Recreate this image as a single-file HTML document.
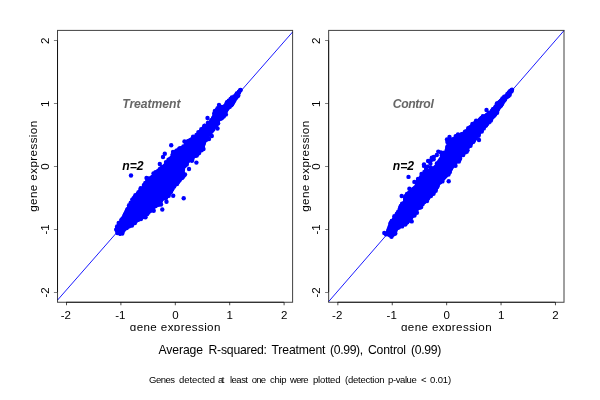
<!DOCTYPE html>
<html lang="en"><head><meta charset="utf-8"><title>Gene expression scatter plots</title>
<style>html,body{margin:0;padding:0;background:#fff;overflow:hidden}svg{display:block}</style>
</head><body>
<svg width="600" height="400" viewBox="0 0 600 400" font-family="'Liberation Sans', Arial, Helvetica, sans-serif" font-size="12.2px" fill="#000">
<defs><clipPath id="cl"><rect x="0" y="0" width="600" height="331"/></clipPath></defs>
<rect width="600" height="400" fill="#fff"/>
<line x1="57.6" y1="300" x2="292.6" y2="32" stroke="#0000ff" stroke-width="0.9"/>
<g fill="#0000ff"><path d="M241.0 88.3 L239.0 90.0 L234.0 95.0 L228.0 100.0 L223.0 105.0 L214.0 110.0 L212.5 115.0 L210.0 120.0 L205.0 125.0 L199.0 130.0 L195.0 135.0 L186.0 140.0 L183.5 145.0 L176.0 150.0 L171.0 155.0 L167.0 160.0 L162.5 165.0 L157.0 170.0 L152.0 175.0 L145.5 180.0 L143.0 185.0 L138.5 190.0 L134.5 195.0 L131.5 200.0 L128.5 205.0 L124.7 210.0 L122.5 215.0 L120.2 220.0 L116.5 225.0 L114.7 230.0 L116.5 234.0 L119.5 236.0 L120.5 236.0 L123.5 234.0 L126.5 230.0 L132.5 225.0 L141.5 220.0 L147.5 215.0 L153.5 210.0 L159.5 205.0 L164.0 200.0 L170.0 195.0 L174.0 190.0 L176.5 185.0 L182.0 180.0 L185.0 175.0 L184.5 170.0 L186.5 165.0 L193.0 160.0 L198.0 155.0 L203.5 150.0 L205.5 145.0 L207.0 140.0 L210.0 135.0 L214.0 130.0 L218.0 125.0 L221.0 120.0 L226.0 115.0 L229.0 110.0 L233.0 105.0 L236.5 100.0 L240.0 95.0 L242.5 90.0 L241.5 88.3Z"/><circle cx="240.2" cy="90.1" r="2.2"/><circle cx="240.6" cy="90.0" r="2.2"/><circle cx="238.9" cy="91.8" r="2.2"/><circle cx="239.1" cy="92.0" r="2.2"/><circle cx="236.8" cy="93.4" r="2.2"/><circle cx="238.3" cy="93.0" r="2.2"/><circle cx="235.8" cy="95.4" r="2.2"/><circle cx="236.5" cy="94.7" r="2.2"/><circle cx="238.3" cy="95.5" r="2.2"/><circle cx="234.2" cy="96.4" r="2.2"/><circle cx="236.1" cy="96.0" r="2.2"/><circle cx="237.5" cy="96.2" r="2.2"/><circle cx="231.9" cy="97.5" r="2.2"/><circle cx="233.3" cy="98.4" r="2.2"/><circle cx="234.4" cy="98.1" r="2.2"/><circle cx="236.2" cy="97.8" r="2.2"/><circle cx="230.6" cy="99.0" r="2.2"/><circle cx="231.5" cy="99.1" r="2.2"/><circle cx="233.7" cy="99.4" r="2.2"/><circle cx="234.7" cy="99.6" r="2.2"/><circle cx="228.8" cy="100.8" r="2.2"/><circle cx="230.5" cy="101.2" r="2.2"/><circle cx="231.1" cy="101.1" r="2.2"/><circle cx="232.7" cy="101.5" r="2.2"/><circle cx="234.2" cy="100.7" r="2.2"/><circle cx="228.0" cy="102.0" r="2.2"/><circle cx="228.7" cy="102.8" r="2.2"/><circle cx="229.7" cy="102.5" r="2.2"/><circle cx="230.9" cy="102.7" r="2.2"/><circle cx="233.2" cy="102.6" r="2.2"/><circle cx="226.4" cy="103.8" r="2.2"/><circle cx="227.6" cy="104.1" r="2.2"/><circle cx="228.9" cy="103.9" r="2.2"/><circle cx="230.7" cy="104.5" r="2.2"/><circle cx="231.8" cy="104.2" r="2.2"/><circle cx="225.2" cy="105.9" r="2.2"/><circle cx="226.9" cy="104.9" r="2.2"/><circle cx="228.0" cy="105.1" r="2.2"/><circle cx="231.3" cy="105.2" r="2.2"/><circle cx="221.9" cy="106.9" r="2.2"/><circle cx="222.5" cy="107.4" r="2.2"/><circle cx="223.9" cy="107.5" r="2.2"/><circle cx="225.9" cy="106.6" r="2.2"/><circle cx="226.4" cy="106.7" r="2.2"/><circle cx="227.8" cy="107.0" r="2.2"/><circle cx="229.6" cy="106.9" r="2.2"/><circle cx="218.8" cy="108.7" r="2.2"/><circle cx="221.7" cy="108.9" r="2.2"/><circle cx="223.1" cy="108.4" r="2.2"/><circle cx="224.0" cy="108.0" r="2.2"/><circle cx="225.7" cy="108.0" r="2.2"/><circle cx="226.7" cy="108.2" r="2.2"/><circle cx="227.7" cy="107.9" r="2.2"/><circle cx="217.1" cy="109.6" r="2.2"/><circle cx="218.5" cy="109.5" r="2.2"/><circle cx="220.5" cy="110.6" r="2.2"/><circle cx="221.5" cy="110.0" r="2.2"/><circle cx="222.4" cy="109.5" r="2.2"/><circle cx="224.1" cy="109.7" r="2.2"/><circle cx="226.4" cy="109.6" r="2.2"/><circle cx="226.3" cy="109.6" r="2.2"/><circle cx="216.3" cy="111.2" r="2.2"/><circle cx="218.5" cy="111.5" r="2.2"/><circle cx="219.8" cy="111.3" r="2.2"/><circle cx="220.5" cy="111.9" r="2.2"/><circle cx="222.8" cy="111.9" r="2.2"/><circle cx="223.9" cy="111.9" r="2.2"/><circle cx="224.6" cy="111.2" r="2.2"/><circle cx="225.8" cy="110.9" r="2.2"/><circle cx="215.7" cy="113.5" r="2.2"/><circle cx="216.0" cy="113.5" r="2.2"/><circle cx="217.6" cy="112.6" r="2.2"/><circle cx="219.1" cy="113.1" r="2.2"/><circle cx="221.4" cy="113.4" r="2.2"/><circle cx="222.3" cy="113.2" r="2.2"/><circle cx="217.2" cy="114.4" r="2.2"/><circle cx="219.3" cy="114.8" r="2.2"/><circle cx="219.8" cy="114.1" r="2.2"/><circle cx="221.2" cy="115.0" r="2.2"/><circle cx="224.5" cy="114.7" r="2.2"/><circle cx="216.4" cy="116.4" r="2.2"/><circle cx="218.2" cy="115.7" r="2.2"/><circle cx="218.9" cy="115.8" r="2.2"/><circle cx="220.2" cy="116.1" r="2.2"/><circle cx="222.4" cy="115.9" r="2.2"/><circle cx="223.7" cy="115.9" r="2.2"/><circle cx="213.2" cy="118.0" r="2.2"/><circle cx="214.1" cy="116.9" r="2.2"/><circle cx="215.4" cy="117.9" r="2.2"/><circle cx="217.0" cy="117.5" r="2.2"/><circle cx="219.1" cy="117.6" r="2.2"/><circle cx="220.6" cy="117.5" r="2.2"/><circle cx="221.2" cy="117.6" r="2.2"/><circle cx="212.8" cy="119.0" r="2.2"/><circle cx="215.0" cy="119.0" r="2.2"/><circle cx="216.5" cy="118.9" r="2.2"/><circle cx="217.6" cy="119.0" r="2.2"/><circle cx="220.8" cy="118.7" r="2.2"/><circle cx="211.3" cy="120.1" r="2.2"/><circle cx="213.2" cy="120.2" r="2.2"/><circle cx="214.7" cy="121.0" r="2.2"/><circle cx="215.4" cy="120.8" r="2.2"/><circle cx="211.3" cy="121.6" r="2.2"/><circle cx="212.4" cy="121.6" r="2.2"/><circle cx="213.7" cy="122.3" r="2.2"/><circle cx="214.7" cy="122.1" r="2.2"/><circle cx="216.8" cy="121.4" r="2.2"/><circle cx="208.0" cy="124.1" r="2.2"/><circle cx="209.2" cy="123.8" r="2.2"/><circle cx="211.2" cy="124.0" r="2.2"/><circle cx="213.1" cy="123.2" r="2.2"/><circle cx="213.7" cy="124.0" r="2.2"/><circle cx="214.9" cy="123.7" r="2.2"/><circle cx="217.7" cy="123.4" r="2.2"/><circle cx="207.5" cy="125.4" r="2.2"/><circle cx="208.0" cy="125.4" r="2.2"/><circle cx="209.6" cy="125.5" r="2.2"/><circle cx="210.6" cy="124.6" r="2.2"/><circle cx="212.2" cy="124.7" r="2.2"/><circle cx="213.0" cy="124.6" r="2.2"/><circle cx="214.5" cy="124.6" r="2.2"/><circle cx="215.6" cy="124.7" r="2.2"/><circle cx="204.3" cy="125.9" r="2.2"/><circle cx="206.5" cy="126.6" r="2.2"/><circle cx="208.4" cy="126.0" r="2.2"/><circle cx="209.7" cy="126.4" r="2.2"/><circle cx="210.7" cy="126.9" r="2.2"/><circle cx="212.0" cy="126.5" r="2.2"/><circle cx="214.0" cy="127.1" r="2.2"/><circle cx="214.7" cy="126.7" r="2.2"/><circle cx="203.7" cy="127.6" r="2.2"/><circle cx="205.3" cy="127.6" r="2.2"/><circle cx="206.7" cy="128.2" r="2.2"/><circle cx="207.5" cy="127.7" r="2.2"/><circle cx="209.0" cy="128.0" r="2.2"/><circle cx="210.3" cy="127.9" r="2.2"/><circle cx="201.3" cy="129.3" r="2.2"/><circle cx="202.9" cy="129.5" r="2.2"/><circle cx="203.7" cy="129.2" r="2.2"/><circle cx="205.1" cy="129.4" r="2.2"/><circle cx="206.5" cy="128.9" r="2.2"/><circle cx="208.1" cy="129.2" r="2.2"/><circle cx="209.9" cy="129.5" r="2.2"/><circle cx="213.3" cy="129.4" r="2.2"/><circle cx="203.1" cy="131.3" r="2.2"/><circle cx="204.7" cy="130.6" r="2.2"/><circle cx="205.7" cy="131.0" r="2.2"/><circle cx="207.5" cy="131.4" r="2.2"/><circle cx="208.9" cy="131.1" r="2.2"/><circle cx="211.1" cy="130.4" r="2.2"/><circle cx="199.1" cy="132.9" r="2.2"/><circle cx="199.5" cy="132.7" r="2.2"/><circle cx="202.1" cy="132.8" r="2.2"/><circle cx="203.1" cy="132.5" r="2.2"/><circle cx="204.7" cy="132.0" r="2.2"/><circle cx="206.2" cy="132.2" r="2.2"/><circle cx="206.8" cy="132.2" r="2.2"/><circle cx="210.1" cy="132.5" r="2.2"/><circle cx="198.7" cy="133.5" r="2.2"/><circle cx="200.8" cy="133.8" r="2.2"/><circle cx="202.0" cy="133.4" r="2.2"/><circle cx="202.8" cy="133.7" r="2.2"/><circle cx="204.9" cy="134.2" r="2.2"/><circle cx="206.3" cy="133.7" r="2.2"/><circle cx="206.9" cy="134.0" r="2.2"/><circle cx="196.5" cy="134.9" r="2.2"/><circle cx="197.0" cy="135.4" r="2.2"/><circle cx="199.5" cy="135.2" r="2.2"/><circle cx="200.5" cy="135.1" r="2.2"/><circle cx="201.9" cy="136.0" r="2.2"/><circle cx="202.9" cy="135.9" r="2.2"/><circle cx="204.9" cy="136.0" r="2.2"/><circle cx="207.8" cy="134.9" r="2.2"/><circle cx="193.1" cy="136.8" r="2.2"/><circle cx="195.1" cy="137.4" r="2.2"/><circle cx="196.4" cy="136.5" r="2.2"/><circle cx="197.9" cy="137.3" r="2.2"/><circle cx="199.2" cy="136.7" r="2.2"/><circle cx="199.9" cy="136.9" r="2.2"/><circle cx="202.1" cy="137.1" r="2.2"/><circle cx="202.7" cy="136.9" r="2.2"/><circle cx="203.9" cy="136.5" r="2.2"/><circle cx="206.2" cy="137.4" r="2.2"/><circle cx="206.4" cy="136.7" r="2.2"/><circle cx="193.9" cy="138.6" r="2.2"/><circle cx="195.1" cy="138.0" r="2.2"/><circle cx="196.5" cy="138.4" r="2.2"/><circle cx="197.9" cy="138.7" r="2.2"/><circle cx="198.7" cy="138.0" r="2.2"/><circle cx="200.9" cy="138.1" r="2.2"/><circle cx="201.8" cy="138.3" r="2.2"/><circle cx="203.0" cy="138.8" r="2.2"/><circle cx="205.5" cy="138.6" r="2.2"/><circle cx="191.4" cy="139.9" r="2.2"/><circle cx="191.8" cy="139.6" r="2.2"/><circle cx="193.1" cy="139.8" r="2.2"/><circle cx="194.6" cy="139.7" r="2.2"/><circle cx="196.2" cy="140.1" r="2.2"/><circle cx="198.4" cy="140.3" r="2.2"/><circle cx="199.3" cy="139.9" r="2.2"/><circle cx="200.8" cy="139.9" r="2.2"/><circle cx="202.0" cy="139.5" r="2.2"/><circle cx="203.7" cy="140.6" r="2.2"/><circle cx="204.7" cy="140.4" r="2.2"/><circle cx="187.9" cy="141.4" r="2.2"/><circle cx="187.9" cy="141.9" r="2.2"/><circle cx="190.3" cy="142.0" r="2.2"/><circle cx="191.5" cy="141.6" r="2.2"/><circle cx="192.4" cy="141.4" r="2.2"/><circle cx="195.0" cy="141.9" r="2.2"/><circle cx="196.3" cy="142.1" r="2.2"/><circle cx="197.1" cy="141.0" r="2.2"/><circle cx="198.4" cy="141.5" r="2.2"/><circle cx="200.5" cy="142.0" r="2.2"/><circle cx="202.0" cy="141.7" r="2.2"/><circle cx="202.5" cy="141.4" r="2.2"/><circle cx="186.0" cy="142.8" r="2.2"/><circle cx="187.2" cy="143.2" r="2.2"/><circle cx="189.4" cy="143.1" r="2.2"/><circle cx="190.7" cy="142.7" r="2.2"/><circle cx="192.5" cy="142.4" r="2.2"/><circle cx="193.6" cy="143.0" r="2.2"/><circle cx="195.9" cy="143.2" r="2.2"/><circle cx="197.2" cy="143.0" r="2.2"/><circle cx="197.9" cy="142.7" r="2.2"/><circle cx="200.3" cy="143.2" r="2.2"/><circle cx="201.0" cy="142.4" r="2.2"/><circle cx="202.3" cy="143.2" r="2.2"/><circle cx="203.5" cy="143.5" r="2.2"/><circle cx="188.4" cy="144.1" r="2.2"/><circle cx="190.4" cy="144.3" r="2.2"/><circle cx="191.6" cy="144.2" r="2.2"/><circle cx="192.3" cy="144.8" r="2.2"/><circle cx="193.8" cy="145.0" r="2.2"/><circle cx="195.4" cy="144.1" r="2.2"/><circle cx="196.5" cy="144.4" r="2.2"/><circle cx="198.4" cy="145.0" r="2.2"/><circle cx="199.1" cy="144.4" r="2.2"/><circle cx="200.6" cy="145.1" r="2.2"/><circle cx="202.2" cy="144.0" r="2.2"/><circle cx="183.4" cy="146.5" r="2.2"/><circle cx="185.6" cy="146.3" r="2.2"/><circle cx="186.7" cy="145.8" r="2.2"/><circle cx="188.2" cy="145.6" r="2.2"/><circle cx="189.2" cy="145.7" r="2.2"/><circle cx="191.1" cy="146.5" r="2.2"/><circle cx="192.4" cy="146.6" r="2.2"/><circle cx="193.9" cy="145.8" r="2.2"/><circle cx="196.2" cy="146.4" r="2.2"/><circle cx="197.2" cy="145.5" r="2.2"/><circle cx="198.7" cy="145.8" r="2.2"/><circle cx="200.7" cy="145.6" r="2.2"/><circle cx="201.6" cy="146.5" r="2.2"/><circle cx="202.5" cy="146.3" r="2.2"/><circle cx="182.0" cy="148.0" r="2.2"/><circle cx="183.9" cy="147.3" r="2.2"/><circle cx="184.8" cy="147.2" r="2.2"/><circle cx="186.4" cy="147.3" r="2.2"/><circle cx="187.4" cy="146.9" r="2.2"/><circle cx="189.4" cy="148.0" r="2.2"/><circle cx="190.8" cy="148.0" r="2.2"/><circle cx="191.6" cy="147.2" r="2.2"/><circle cx="193.6" cy="148.0" r="2.2"/><circle cx="195.7" cy="147.4" r="2.2"/><circle cx="196.3" cy="147.4" r="2.2"/><circle cx="198.1" cy="148.0" r="2.2"/><circle cx="199.2" cy="147.9" r="2.2"/><circle cx="202.4" cy="147.3" r="2.2"/><circle cx="179.8" cy="148.5" r="2.2"/><circle cx="180.9" cy="148.5" r="2.2"/><circle cx="182.0" cy="149.6" r="2.2"/><circle cx="184.1" cy="149.6" r="2.2"/><circle cx="184.8" cy="148.5" r="2.2"/><circle cx="186.0" cy="149.0" r="2.2"/><circle cx="188.1" cy="148.9" r="2.2"/><circle cx="189.0" cy="148.9" r="2.2"/><circle cx="190.8" cy="149.2" r="2.2"/><circle cx="192.4" cy="149.4" r="2.2"/><circle cx="193.7" cy="148.5" r="2.2"/><circle cx="195.3" cy="148.8" r="2.2"/><circle cx="196.4" cy="148.8" r="2.2"/><circle cx="198.0" cy="148.6" r="2.2"/><circle cx="198.9" cy="148.7" r="2.2"/><circle cx="200.3" cy="149.5" r="2.2"/><circle cx="201.6" cy="149.6" r="2.2"/><circle cx="180.8" cy="151.0" r="2.2"/><circle cx="181.3" cy="150.3" r="2.2"/><circle cx="182.9" cy="150.1" r="2.2"/><circle cx="185.4" cy="150.6" r="2.2"/><circle cx="186.8" cy="150.3" r="2.2"/><circle cx="188.2" cy="150.4" r="2.2"/><circle cx="188.9" cy="150.8" r="2.2"/><circle cx="191.2" cy="150.0" r="2.2"/><circle cx="192.3" cy="150.6" r="2.2"/><circle cx="193.3" cy="150.3" r="2.2"/><circle cx="194.7" cy="150.1" r="2.2"/><circle cx="196.3" cy="150.6" r="2.2"/><circle cx="198.3" cy="150.1" r="2.2"/><circle cx="201.5" cy="150.3" r="2.2"/><circle cx="175.7" cy="151.5" r="2.2"/><circle cx="176.8" cy="152.2" r="2.2"/><circle cx="179.1" cy="151.9" r="2.2"/><circle cx="180.0" cy="151.8" r="2.2"/><circle cx="182.3" cy="151.8" r="2.2"/><circle cx="183.3" cy="151.8" r="2.2"/><circle cx="184.6" cy="152.4" r="2.2"/><circle cx="186.8" cy="151.8" r="2.2"/><circle cx="187.3" cy="152.3" r="2.2"/><circle cx="188.8" cy="151.4" r="2.2"/><circle cx="191.1" cy="151.9" r="2.2"/><circle cx="192.4" cy="151.9" r="2.2"/><circle cx="194.0" cy="152.0" r="2.2"/><circle cx="194.6" cy="151.4" r="2.2"/><circle cx="196.5" cy="152.2" r="2.2"/><circle cx="199.1" cy="152.0" r="2.2"/><circle cx="174.4" cy="154.0" r="2.2"/><circle cx="175.3" cy="154.1" r="2.2"/><circle cx="177.9" cy="154.1" r="2.2"/><circle cx="178.8" cy="153.0" r="2.2"/><circle cx="180.7" cy="153.4" r="2.2"/><circle cx="182.2" cy="153.6" r="2.2"/><circle cx="183.5" cy="153.1" r="2.2"/><circle cx="185.0" cy="153.2" r="2.2"/><circle cx="186.0" cy="153.9" r="2.2"/><circle cx="187.9" cy="153.1" r="2.2"/><circle cx="188.7" cy="153.4" r="2.2"/><circle cx="190.5" cy="153.4" r="2.2"/><circle cx="191.5" cy="153.2" r="2.2"/><circle cx="193.6" cy="154.0" r="2.2"/><circle cx="194.3" cy="153.6" r="2.2"/><circle cx="198.0" cy="153.6" r="2.2"/><circle cx="172.8" cy="154.9" r="2.2"/><circle cx="173.6" cy="154.9" r="2.2"/><circle cx="175.9" cy="155.0" r="2.2"/><circle cx="176.9" cy="155.3" r="2.2"/><circle cx="179.0" cy="154.9" r="2.2"/><circle cx="179.8" cy="155.0" r="2.2"/><circle cx="181.1" cy="154.6" r="2.2"/><circle cx="183.0" cy="154.5" r="2.2"/><circle cx="184.4" cy="155.0" r="2.2"/><circle cx="185.4" cy="155.2" r="2.2"/><circle cx="186.9" cy="155.3" r="2.2"/><circle cx="189.2" cy="155.0" r="2.2"/><circle cx="189.8" cy="155.0" r="2.2"/><circle cx="191.6" cy="155.5" r="2.2"/><circle cx="192.8" cy="155.4" r="2.2"/><circle cx="196.8" cy="155.6" r="2.2"/><circle cx="173.5" cy="156.0" r="2.2"/><circle cx="174.2" cy="157.0" r="2.2"/><circle cx="175.7" cy="156.9" r="2.2"/><circle cx="177.0" cy="156.5" r="2.2"/><circle cx="179.4" cy="156.1" r="2.2"/><circle cx="180.0" cy="156.5" r="2.2"/><circle cx="181.5" cy="155.9" r="2.2"/><circle cx="182.8" cy="156.1" r="2.2"/><circle cx="185.1" cy="156.7" r="2.2"/><circle cx="186.5" cy="156.1" r="2.2"/><circle cx="187.8" cy="156.0" r="2.2"/><circle cx="188.9" cy="156.7" r="2.2"/><circle cx="190.1" cy="156.9" r="2.2"/><circle cx="191.8" cy="156.6" r="2.2"/><circle cx="170.3" cy="158.6" r="2.2"/><circle cx="172.3" cy="157.9" r="2.2"/><circle cx="172.8" cy="158.4" r="2.2"/><circle cx="174.4" cy="158.2" r="2.2"/><circle cx="176.7" cy="158.1" r="2.2"/><circle cx="177.8" cy="157.8" r="2.2"/><circle cx="178.4" cy="157.4" r="2.2"/><circle cx="180.0" cy="158.1" r="2.2"/><circle cx="181.7" cy="158.0" r="2.2"/><circle cx="183.7" cy="157.6" r="2.2"/><circle cx="184.3" cy="158.2" r="2.2"/><circle cx="185.5" cy="157.4" r="2.2"/><circle cx="187.3" cy="157.5" r="2.2"/><circle cx="188.7" cy="157.7" r="2.2"/><circle cx="190.4" cy="158.1" r="2.2"/><circle cx="191.1" cy="158.1" r="2.2"/><circle cx="192.5" cy="157.7" r="2.2"/><circle cx="171.0" cy="159.2" r="2.2"/><circle cx="172.3" cy="159.3" r="2.2"/><circle cx="173.9" cy="159.4" r="2.2"/><circle cx="175.8" cy="159.8" r="2.2"/><circle cx="176.4" cy="160.0" r="2.2"/><circle cx="177.7" cy="159.5" r="2.2"/><circle cx="179.6" cy="159.2" r="2.2"/><circle cx="180.7" cy="159.8" r="2.2"/><circle cx="182.1" cy="159.6" r="2.2"/><circle cx="184.7" cy="159.1" r="2.2"/><circle cx="185.3" cy="159.6" r="2.2"/><circle cx="187.1" cy="159.7" r="2.2"/><circle cx="189.0" cy="159.1" r="2.2"/><circle cx="190.7" cy="159.3" r="2.2"/><circle cx="192.2" cy="159.8" r="2.2"/><circle cx="169.0" cy="160.7" r="2.2"/><circle cx="170.4" cy="160.8" r="2.2"/><circle cx="172.7" cy="161.2" r="2.2"/><circle cx="174.2" cy="161.3" r="2.2"/><circle cx="175.0" cy="161.1" r="2.2"/><circle cx="176.6" cy="161.3" r="2.2"/><circle cx="178.2" cy="160.7" r="2.2"/><circle cx="179.8" cy="161.6" r="2.2"/><circle cx="180.7" cy="161.5" r="2.2"/><circle cx="182.0" cy="160.7" r="2.2"/><circle cx="183.7" cy="161.3" r="2.2"/><circle cx="186.0" cy="161.3" r="2.2"/><circle cx="186.7" cy="161.5" r="2.2"/><circle cx="168.4" cy="162.9" r="2.2"/><circle cx="169.6" cy="162.3" r="2.2"/><circle cx="170.5" cy="162.6" r="2.2"/><circle cx="171.8" cy="163.0" r="2.2"/><circle cx="173.3" cy="161.9" r="2.2"/><circle cx="174.7" cy="163.0" r="2.2"/><circle cx="176.4" cy="162.1" r="2.2"/><circle cx="177.4" cy="161.9" r="2.2"/><circle cx="179.6" cy="162.7" r="2.2"/><circle cx="181.0" cy="162.8" r="2.2"/><circle cx="181.7" cy="162.6" r="2.2"/><circle cx="183.4" cy="162.9" r="2.2"/><circle cx="185.4" cy="163.0" r="2.2"/><circle cx="187.2" cy="162.0" r="2.2"/><circle cx="168.0" cy="163.5" r="2.2"/><circle cx="169.2" cy="164.3" r="2.2"/><circle cx="170.8" cy="163.8" r="2.2"/><circle cx="172.6" cy="163.4" r="2.2"/><circle cx="173.8" cy="163.7" r="2.2"/><circle cx="175.9" cy="163.8" r="2.2"/><circle cx="176.9" cy="164.6" r="2.2"/><circle cx="178.5" cy="164.4" r="2.2"/><circle cx="180.2" cy="163.4" r="2.2"/><circle cx="181.4" cy="163.9" r="2.2"/><circle cx="183.3" cy="163.8" r="2.2"/><circle cx="185.0" cy="164.0" r="2.2"/><circle cx="185.1" cy="164.4" r="2.2"/><circle cx="165.8" cy="165.5" r="2.2"/><circle cx="166.4" cy="165.5" r="2.2"/><circle cx="168.1" cy="165.9" r="2.2"/><circle cx="169.4" cy="166.0" r="2.2"/><circle cx="170.9" cy="165.2" r="2.2"/><circle cx="172.9" cy="165.5" r="2.2"/><circle cx="173.7" cy="165.7" r="2.2"/><circle cx="175.1" cy="165.8" r="2.2"/><circle cx="177.3" cy="165.8" r="2.2"/><circle cx="178.7" cy="165.3" r="2.2"/><circle cx="179.9" cy="165.4" r="2.2"/><circle cx="181.9" cy="165.0" r="2.2"/><circle cx="182.6" cy="164.9" r="2.2"/><circle cx="185.0" cy="165.5" r="2.2"/><circle cx="162.6" cy="167.0" r="2.2"/><circle cx="163.4" cy="167.2" r="2.2"/><circle cx="164.7" cy="167.4" r="2.2"/><circle cx="166.7" cy="167.3" r="2.2"/><circle cx="167.6" cy="166.9" r="2.2"/><circle cx="169.7" cy="167.1" r="2.2"/><circle cx="170.4" cy="167.0" r="2.2"/><circle cx="172.7" cy="166.7" r="2.2"/><circle cx="173.3" cy="166.8" r="2.2"/><circle cx="175.4" cy="167.4" r="2.2"/><circle cx="176.2" cy="166.6" r="2.2"/><circle cx="177.7" cy="166.8" r="2.2"/><circle cx="179.5" cy="166.6" r="2.2"/><circle cx="180.7" cy="166.6" r="2.2"/><circle cx="183.1" cy="167.3" r="2.2"/><circle cx="160.1" cy="168.8" r="2.2"/><circle cx="161.8" cy="168.0" r="2.2"/><circle cx="162.8" cy="168.4" r="2.2"/><circle cx="165.1" cy="168.7" r="2.2"/><circle cx="166.2" cy="168.7" r="2.2"/><circle cx="167.6" cy="168.1" r="2.2"/><circle cx="169.2" cy="168.4" r="2.2"/><circle cx="170.7" cy="169.0" r="2.2"/><circle cx="171.8" cy="168.6" r="2.2"/><circle cx="173.6" cy="168.4" r="2.2"/><circle cx="174.4" cy="168.8" r="2.2"/><circle cx="176.6" cy="168.8" r="2.2"/><circle cx="177.8" cy="168.9" r="2.2"/><circle cx="179.2" cy="168.7" r="2.2"/><circle cx="180.3" cy="168.3" r="2.2"/><circle cx="182.2" cy="168.0" r="2.2"/><circle cx="183.1" cy="168.7" r="2.2"/><circle cx="159.2" cy="170.1" r="2.2"/><circle cx="162.2" cy="169.9" r="2.2"/><circle cx="163.3" cy="170.6" r="2.2"/><circle cx="164.3" cy="170.1" r="2.2"/><circle cx="165.9" cy="170.3" r="2.2"/><circle cx="168.3" cy="170.0" r="2.2"/><circle cx="168.8" cy="170.1" r="2.2"/><circle cx="170.8" cy="170.3" r="2.2"/><circle cx="172.2" cy="170.2" r="2.2"/><circle cx="174.1" cy="170.0" r="2.2"/><circle cx="175.1" cy="170.5" r="2.2"/><circle cx="176.3" cy="170.2" r="2.2"/><circle cx="178.0" cy="170.3" r="2.2"/><circle cx="179.2" cy="170.6" r="2.2"/><circle cx="181.0" cy="169.5" r="2.2"/><circle cx="182.9" cy="169.9" r="2.2"/><circle cx="157.8" cy="171.2" r="2.2"/><circle cx="159.4" cy="171.5" r="2.2"/><circle cx="160.3" cy="171.2" r="2.2"/><circle cx="161.4" cy="171.8" r="2.2"/><circle cx="163.7" cy="171.7" r="2.2"/><circle cx="164.8" cy="171.6" r="2.2"/><circle cx="166.0" cy="172.1" r="2.2"/><circle cx="167.7" cy="171.7" r="2.2"/><circle cx="169.7" cy="171.9" r="2.2"/><circle cx="170.8" cy="171.3" r="2.2"/><circle cx="172.4" cy="171.1" r="2.2"/><circle cx="174.2" cy="171.3" r="2.2"/><circle cx="175.7" cy="171.2" r="2.2"/><circle cx="176.6" cy="171.2" r="2.2"/><circle cx="178.2" cy="171.1" r="2.2"/><circle cx="179.2" cy="171.8" r="2.2"/><circle cx="181.2" cy="171.2" r="2.2"/><circle cx="159.1" cy="172.6" r="2.2"/><circle cx="160.6" cy="173.2" r="2.2"/><circle cx="161.0" cy="172.4" r="2.2"/><circle cx="163.5" cy="173.2" r="2.2"/><circle cx="164.1" cy="172.5" r="2.2"/><circle cx="165.4" cy="172.7" r="2.2"/><circle cx="167.6" cy="172.8" r="2.2"/><circle cx="168.3" cy="173.5" r="2.2"/><circle cx="170.5" cy="172.6" r="2.2"/><circle cx="172.0" cy="173.1" r="2.2"/><circle cx="173.3" cy="173.2" r="2.2"/><circle cx="174.8" cy="173.3" r="2.2"/><circle cx="176.2" cy="172.6" r="2.2"/><circle cx="177.4" cy="173.0" r="2.2"/><circle cx="178.9" cy="172.9" r="2.2"/><circle cx="180.5" cy="173.1" r="2.2"/><circle cx="181.5" cy="172.7" r="2.2"/><circle cx="182.9" cy="173.0" r="2.2"/><circle cx="155.9" cy="174.9" r="2.2"/><circle cx="157.5" cy="174.9" r="2.2"/><circle cx="158.5" cy="174.4" r="2.2"/><circle cx="160.7" cy="174.0" r="2.2"/><circle cx="161.7" cy="174.7" r="2.2"/><circle cx="162.4" cy="174.6" r="2.2"/><circle cx="164.6" cy="175.0" r="2.2"/><circle cx="165.7" cy="175.1" r="2.2"/><circle cx="167.3" cy="174.5" r="2.2"/><circle cx="169.2" cy="173.9" r="2.2"/><circle cx="170.4" cy="174.7" r="2.2"/><circle cx="171.4" cy="174.9" r="2.2"/><circle cx="172.9" cy="174.5" r="2.2"/><circle cx="174.5" cy="174.8" r="2.2"/><circle cx="175.5" cy="174.4" r="2.2"/><circle cx="177.2" cy="174.6" r="2.2"/><circle cx="179.1" cy="174.3" r="2.2"/><circle cx="180.6" cy="174.4" r="2.2"/><circle cx="182.4" cy="174.2" r="2.2"/><circle cx="182.8" cy="174.9" r="2.2"/><circle cx="156.1" cy="176.1" r="2.2"/><circle cx="156.5" cy="175.8" r="2.2"/><circle cx="158.0" cy="175.6" r="2.2"/><circle cx="160.6" cy="176.1" r="2.2"/><circle cx="161.8" cy="176.3" r="2.2"/><circle cx="163.6" cy="176.1" r="2.2"/><circle cx="164.7" cy="176.2" r="2.2"/><circle cx="166.3" cy="176.1" r="2.2"/><circle cx="167.8" cy="175.7" r="2.2"/><circle cx="169.2" cy="175.9" r="2.2"/><circle cx="170.9" cy="175.5" r="2.2"/><circle cx="171.7" cy="175.4" r="2.2"/><circle cx="173.9" cy="176.5" r="2.2"/><circle cx="175.2" cy="175.8" r="2.2"/><circle cx="176.9" cy="176.3" r="2.2"/><circle cx="178.1" cy="175.7" r="2.2"/><circle cx="179.3" cy="175.9" r="2.2"/><circle cx="181.8" cy="175.5" r="2.2"/><circle cx="151.3" cy="177.9" r="2.2"/><circle cx="152.3" cy="176.9" r="2.2"/><circle cx="154.1" cy="178.1" r="2.2"/><circle cx="155.0" cy="177.4" r="2.2"/><circle cx="156.1" cy="177.7" r="2.2"/><circle cx="157.7" cy="177.1" r="2.2"/><circle cx="158.9" cy="176.9" r="2.2"/><circle cx="161.2" cy="177.0" r="2.2"/><circle cx="163.0" cy="177.0" r="2.2"/><circle cx="164.4" cy="177.1" r="2.2"/><circle cx="164.8" cy="177.8" r="2.2"/><circle cx="166.6" cy="177.8" r="2.2"/><circle cx="168.0" cy="177.0" r="2.2"/><circle cx="170.1" cy="177.8" r="2.2"/><circle cx="171.7" cy="177.8" r="2.2"/><circle cx="172.3" cy="177.7" r="2.2"/><circle cx="174.5" cy="177.5" r="2.2"/><circle cx="176.2" cy="177.2" r="2.2"/><circle cx="177.7" cy="177.8" r="2.2"/><circle cx="178.1" cy="176.9" r="2.2"/><circle cx="179.8" cy="177.9" r="2.2"/><circle cx="148.8" cy="178.5" r="2.2"/><circle cx="150.6" cy="179.2" r="2.2"/><circle cx="151.4" cy="179.2" r="2.2"/><circle cx="153.2" cy="178.9" r="2.2"/><circle cx="154.4" cy="179.3" r="2.2"/><circle cx="156.5" cy="179.3" r="2.2"/><circle cx="157.5" cy="178.8" r="2.2"/><circle cx="158.4" cy="179.6" r="2.2"/><circle cx="160.6" cy="179.4" r="2.2"/><circle cx="161.6" cy="179.1" r="2.2"/><circle cx="163.8" cy="179.4" r="2.2"/><circle cx="164.8" cy="178.8" r="2.2"/><circle cx="166.1" cy="179.5" r="2.2"/><circle cx="167.5" cy="179.2" r="2.2"/><circle cx="169.2" cy="179.5" r="2.2"/><circle cx="170.9" cy="178.7" r="2.2"/><circle cx="171.4" cy="178.7" r="2.2"/><circle cx="173.3" cy="179.1" r="2.2"/><circle cx="175.3" cy="179.5" r="2.2"/><circle cx="175.8" cy="179.4" r="2.2"/><circle cx="178.2" cy="179.4" r="2.2"/><circle cx="147.6" cy="180.0" r="2.2"/><circle cx="149.8" cy="180.6" r="2.2"/><circle cx="151.8" cy="180.5" r="2.2"/><circle cx="152.7" cy="180.2" r="2.2"/><circle cx="154.8" cy="180.8" r="2.2"/><circle cx="155.9" cy="180.0" r="2.2"/><circle cx="157.8" cy="180.8" r="2.2"/><circle cx="158.6" cy="180.6" r="2.2"/><circle cx="160.9" cy="181.0" r="2.2"/><circle cx="161.9" cy="180.5" r="2.2"/><circle cx="163.5" cy="180.1" r="2.2"/><circle cx="164.5" cy="180.1" r="2.2"/><circle cx="166.5" cy="180.3" r="2.2"/><circle cx="167.8" cy="180.4" r="2.2"/><circle cx="169.3" cy="180.1" r="2.2"/><circle cx="170.2" cy="181.1" r="2.2"/><circle cx="172.0" cy="180.0" r="2.2"/><circle cx="173.8" cy="180.8" r="2.2"/><circle cx="174.7" cy="180.6" r="2.2"/><circle cx="176.4" cy="180.5" r="2.2"/><circle cx="179.2" cy="180.5" r="2.2"/><circle cx="149.0" cy="181.4" r="2.2"/><circle cx="150.3" cy="181.6" r="2.2"/><circle cx="151.6" cy="181.5" r="2.2"/><circle cx="153.6" cy="182.4" r="2.2"/><circle cx="154.9" cy="182.5" r="2.2"/><circle cx="156.9" cy="181.5" r="2.2"/><circle cx="158.0" cy="181.9" r="2.2"/><circle cx="158.8" cy="182.6" r="2.2"/><circle cx="160.4" cy="182.1" r="2.2"/><circle cx="162.3" cy="182.5" r="2.2"/><circle cx="163.8" cy="181.9" r="2.2"/><circle cx="165.0" cy="181.6" r="2.2"/><circle cx="167.0" cy="182.6" r="2.2"/><circle cx="167.5" cy="181.4" r="2.2"/><circle cx="169.0" cy="181.8" r="2.2"/><circle cx="171.2" cy="182.5" r="2.2"/><circle cx="172.6" cy="181.5" r="2.2"/><circle cx="173.9" cy="182.3" r="2.2"/><circle cx="175.2" cy="182.6" r="2.2"/><circle cx="178.0" cy="182.2" r="2.2"/><circle cx="145.3" cy="183.0" r="2.2"/><circle cx="146.7" cy="183.5" r="2.2"/><circle cx="148.1" cy="183.7" r="2.2"/><circle cx="149.4" cy="183.8" r="2.2"/><circle cx="151.1" cy="182.9" r="2.2"/><circle cx="153.4" cy="183.2" r="2.2"/><circle cx="154.9" cy="183.9" r="2.2"/><circle cx="156.3" cy="183.1" r="2.2"/><circle cx="157.2" cy="183.0" r="2.2"/><circle cx="159.3" cy="183.9" r="2.2"/><circle cx="160.4" cy="183.4" r="2.2"/><circle cx="161.5" cy="183.9" r="2.2"/><circle cx="163.1" cy="183.7" r="2.2"/><circle cx="164.2" cy="183.2" r="2.2"/><circle cx="165.5" cy="183.8" r="2.2"/><circle cx="167.6" cy="183.1" r="2.2"/><circle cx="169.4" cy="183.2" r="2.2"/><circle cx="170.3" cy="183.1" r="2.2"/><circle cx="171.6" cy="183.9" r="2.2"/><circle cx="173.1" cy="183.1" r="2.2"/><circle cx="176.9" cy="184.1" r="2.2"/><circle cx="144.6" cy="184.7" r="2.2"/><circle cx="147.2" cy="184.6" r="2.2"/><circle cx="148.5" cy="185.5" r="2.2"/><circle cx="148.9" cy="184.7" r="2.2"/><circle cx="151.3" cy="184.5" r="2.2"/><circle cx="152.6" cy="184.8" r="2.2"/><circle cx="154.4" cy="184.4" r="2.2"/><circle cx="155.7" cy="184.8" r="2.2"/><circle cx="156.3" cy="184.4" r="2.2"/><circle cx="158.7" cy="185.0" r="2.2"/><circle cx="159.4" cy="184.9" r="2.2"/><circle cx="161.7" cy="184.7" r="2.2"/><circle cx="162.8" cy="184.6" r="2.2"/><circle cx="163.8" cy="185.3" r="2.2"/><circle cx="165.9" cy="184.6" r="2.2"/><circle cx="166.7" cy="184.5" r="2.2"/><circle cx="168.8" cy="185.0" r="2.2"/><circle cx="169.9" cy="184.6" r="2.2"/><circle cx="171.8" cy="185.2" r="2.2"/><circle cx="172.4" cy="185.1" r="2.2"/><circle cx="144.1" cy="186.9" r="2.2"/><circle cx="145.6" cy="186.5" r="2.2"/><circle cx="146.4" cy="186.9" r="2.2"/><circle cx="147.6" cy="186.1" r="2.2"/><circle cx="149.7" cy="186.3" r="2.2"/><circle cx="150.4" cy="186.3" r="2.2"/><circle cx="152.3" cy="185.9" r="2.2"/><circle cx="153.7" cy="186.4" r="2.2"/><circle cx="155.1" cy="186.0" r="2.2"/><circle cx="156.8" cy="186.9" r="2.2"/><circle cx="158.4" cy="186.3" r="2.2"/><circle cx="159.7" cy="186.4" r="2.2"/><circle cx="161.2" cy="186.0" r="2.2"/><circle cx="162.8" cy="187.0" r="2.2"/><circle cx="163.7" cy="186.5" r="2.2"/><circle cx="165.2" cy="186.5" r="2.2"/><circle cx="166.1" cy="187.1" r="2.2"/><circle cx="167.7" cy="186.1" r="2.2"/><circle cx="169.0" cy="186.2" r="2.2"/><circle cx="171.3" cy="185.9" r="2.2"/><circle cx="171.6" cy="186.7" r="2.2"/><circle cx="174.2" cy="186.6" r="2.2"/><circle cx="143.7" cy="187.5" r="2.2"/><circle cx="144.9" cy="187.5" r="2.2"/><circle cx="146.5" cy="187.6" r="2.2"/><circle cx="148.2" cy="188.4" r="2.2"/><circle cx="149.1" cy="188.1" r="2.2"/><circle cx="151.3" cy="187.6" r="2.2"/><circle cx="152.9" cy="188.5" r="2.2"/><circle cx="153.8" cy="187.9" r="2.2"/><circle cx="155.9" cy="188.0" r="2.2"/><circle cx="156.8" cy="188.5" r="2.2"/><circle cx="158.7" cy="187.8" r="2.2"/><circle cx="159.5" cy="187.8" r="2.2"/><circle cx="161.3" cy="188.6" r="2.2"/><circle cx="163.2" cy="188.5" r="2.2"/><circle cx="164.6" cy="188.4" r="2.2"/><circle cx="165.2" cy="188.0" r="2.2"/><circle cx="167.8" cy="188.5" r="2.2"/><circle cx="168.4" cy="187.9" r="2.2"/><circle cx="170.3" cy="187.8" r="2.2"/><circle cx="171.6" cy="187.5" r="2.2"/><circle cx="143.2" cy="189.7" r="2.2"/><circle cx="144.9" cy="189.7" r="2.2"/><circle cx="146.3" cy="189.6" r="2.2"/><circle cx="148.5" cy="189.6" r="2.2"/><circle cx="149.1" cy="189.5" r="2.2"/><circle cx="150.8" cy="190.0" r="2.2"/><circle cx="152.0" cy="189.3" r="2.2"/><circle cx="153.9" cy="189.0" r="2.2"/><circle cx="155.3" cy="190.0" r="2.2"/><circle cx="156.6" cy="189.2" r="2.2"/><circle cx="158.0" cy="189.5" r="2.2"/><circle cx="159.0" cy="189.0" r="2.2"/><circle cx="160.5" cy="189.3" r="2.2"/><circle cx="162.2" cy="189.2" r="2.2"/><circle cx="163.5" cy="189.0" r="2.2"/><circle cx="165.2" cy="189.9" r="2.2"/><circle cx="166.8" cy="189.6" r="2.2"/><circle cx="168.2" cy="189.1" r="2.2"/><circle cx="169.7" cy="189.5" r="2.2"/><circle cx="170.6" cy="189.6" r="2.2"/><circle cx="172.2" cy="189.2" r="2.2"/><circle cx="140.2" cy="190.4" r="2.2"/><circle cx="140.7" cy="191.1" r="2.2"/><circle cx="143.1" cy="190.8" r="2.2"/><circle cx="144.2" cy="190.6" r="2.2"/><circle cx="144.8" cy="191.4" r="2.2"/><circle cx="146.7" cy="190.5" r="2.2"/><circle cx="148.1" cy="190.9" r="2.2"/><circle cx="150.0" cy="190.5" r="2.2"/><circle cx="150.8" cy="191.6" r="2.2"/><circle cx="152.9" cy="190.6" r="2.2"/><circle cx="153.8" cy="190.8" r="2.2"/><circle cx="155.7" cy="191.1" r="2.2"/><circle cx="157.3" cy="191.4" r="2.2"/><circle cx="158.4" cy="191.3" r="2.2"/><circle cx="160.1" cy="191.3" r="2.2"/><circle cx="161.2" cy="191.3" r="2.2"/><circle cx="162.9" cy="191.5" r="2.2"/><circle cx="163.6" cy="191.4" r="2.2"/><circle cx="164.9" cy="191.3" r="2.2"/><circle cx="167.1" cy="191.0" r="2.2"/><circle cx="169.0" cy="191.1" r="2.2"/><circle cx="171.2" cy="190.9" r="2.2"/><circle cx="138.5" cy="192.3" r="2.2"/><circle cx="141.7" cy="192.5" r="2.2"/><circle cx="142.7" cy="192.1" r="2.2"/><circle cx="143.9" cy="192.1" r="2.2"/><circle cx="145.7" cy="192.6" r="2.2"/><circle cx="146.6" cy="193.0" r="2.2"/><circle cx="148.3" cy="192.9" r="2.2"/><circle cx="150.3" cy="193.1" r="2.2"/><circle cx="151.0" cy="192.4" r="2.2"/><circle cx="153.3" cy="191.9" r="2.2"/><circle cx="153.7" cy="192.6" r="2.2"/><circle cx="155.7" cy="193.0" r="2.2"/><circle cx="157.5" cy="192.5" r="2.2"/><circle cx="159.2" cy="192.5" r="2.2"/><circle cx="160.0" cy="192.7" r="2.2"/><circle cx="161.3" cy="192.3" r="2.2"/><circle cx="163.0" cy="192.3" r="2.2"/><circle cx="164.9" cy="192.7" r="2.2"/><circle cx="165.8" cy="192.0" r="2.2"/><circle cx="167.1" cy="192.4" r="2.2"/><circle cx="170.3" cy="192.5" r="2.2"/><circle cx="137.7" cy="193.8" r="2.2"/><circle cx="140.5" cy="194.0" r="2.2"/><circle cx="141.1" cy="194.5" r="2.2"/><circle cx="143.2" cy="194.4" r="2.2"/><circle cx="145.0" cy="194.5" r="2.2"/><circle cx="145.8" cy="193.6" r="2.2"/><circle cx="147.0" cy="194.0" r="2.2"/><circle cx="148.7" cy="193.6" r="2.2"/><circle cx="149.8" cy="194.2" r="2.2"/><circle cx="151.7" cy="193.8" r="2.2"/><circle cx="153.6" cy="194.2" r="2.2"/><circle cx="153.9" cy="193.9" r="2.2"/><circle cx="156.3" cy="193.8" r="2.2"/><circle cx="157.6" cy="193.4" r="2.2"/><circle cx="158.6" cy="194.4" r="2.2"/><circle cx="160.4" cy="194.2" r="2.2"/><circle cx="161.3" cy="194.0" r="2.2"/><circle cx="163.2" cy="193.7" r="2.2"/><circle cx="164.8" cy="194.0" r="2.2"/><circle cx="166.6" cy="194.1" r="2.2"/><circle cx="167.9" cy="193.5" r="2.2"/><circle cx="168.9" cy="193.5" r="2.2"/><circle cx="138.9" cy="195.8" r="2.2"/><circle cx="140.4" cy="195.1" r="2.2"/><circle cx="141.8" cy="195.0" r="2.2"/><circle cx="144.1" cy="195.6" r="2.2"/><circle cx="144.9" cy="195.4" r="2.2"/><circle cx="146.4" cy="195.0" r="2.2"/><circle cx="148.5" cy="195.6" r="2.2"/><circle cx="150.1" cy="195.4" r="2.2"/><circle cx="151.2" cy="195.2" r="2.2"/><circle cx="152.0" cy="196.0" r="2.2"/><circle cx="154.5" cy="195.3" r="2.2"/><circle cx="156.0" cy="195.9" r="2.2"/><circle cx="156.8" cy="195.6" r="2.2"/><circle cx="159.1" cy="195.5" r="2.2"/><circle cx="160.6" cy="195.2" r="2.2"/><circle cx="161.4" cy="195.8" r="2.2"/><circle cx="162.7" cy="195.3" r="2.2"/><circle cx="165.0" cy="195.5" r="2.2"/><circle cx="165.8" cy="195.2" r="2.2"/><circle cx="167.6" cy="196.1" r="2.2"/><circle cx="135.0" cy="197.0" r="2.2"/><circle cx="137.9" cy="196.7" r="2.2"/><circle cx="139.2" cy="196.7" r="2.2"/><circle cx="140.7" cy="196.4" r="2.2"/><circle cx="142.7" cy="196.8" r="2.2"/><circle cx="143.5" cy="197.2" r="2.2"/><circle cx="144.9" cy="196.7" r="2.2"/><circle cx="147.2" cy="196.6" r="2.2"/><circle cx="148.2" cy="197.4" r="2.2"/><circle cx="150.1" cy="196.6" r="2.2"/><circle cx="151.0" cy="197.3" r="2.2"/><circle cx="152.5" cy="197.6" r="2.2"/><circle cx="153.7" cy="197.5" r="2.2"/><circle cx="155.5" cy="196.7" r="2.2"/><circle cx="156.9" cy="196.6" r="2.2"/><circle cx="158.7" cy="196.7" r="2.2"/><circle cx="160.4" cy="197.1" r="2.2"/><circle cx="161.2" cy="196.7" r="2.2"/><circle cx="162.9" cy="196.7" r="2.2"/><circle cx="164.3" cy="196.5" r="2.2"/><circle cx="166.0" cy="197.3" r="2.2"/><circle cx="133.6" cy="198.3" r="2.2"/><circle cx="136.0" cy="198.9" r="2.2"/><circle cx="136.8" cy="198.6" r="2.2"/><circle cx="138.6" cy="198.5" r="2.2"/><circle cx="140.0" cy="198.0" r="2.2"/><circle cx="141.5" cy="198.2" r="2.2"/><circle cx="142.7" cy="198.8" r="2.2"/><circle cx="144.4" cy="198.4" r="2.2"/><circle cx="146.6" cy="198.8" r="2.2"/><circle cx="148.1" cy="198.9" r="2.2"/><circle cx="148.7" cy="198.2" r="2.2"/><circle cx="150.0" cy="198.7" r="2.2"/><circle cx="152.3" cy="198.3" r="2.2"/><circle cx="153.4" cy="198.7" r="2.2"/><circle cx="155.3" cy="198.2" r="2.2"/><circle cx="156.9" cy="198.3" r="2.2"/><circle cx="158.1" cy="198.1" r="2.2"/><circle cx="159.0" cy="199.0" r="2.2"/><circle cx="161.2" cy="198.8" r="2.2"/><circle cx="161.9" cy="197.9" r="2.2"/><circle cx="163.6" cy="198.4" r="2.2"/><circle cx="134.7" cy="200.3" r="2.2"/><circle cx="136.5" cy="199.8" r="2.2"/><circle cx="137.1" cy="200.4" r="2.2"/><circle cx="139.5" cy="199.7" r="2.2"/><circle cx="140.0" cy="200.4" r="2.2"/><circle cx="142.1" cy="199.5" r="2.2"/><circle cx="143.1" cy="199.5" r="2.2"/><circle cx="145.2" cy="199.7" r="2.2"/><circle cx="146.8" cy="200.3" r="2.2"/><circle cx="147.3" cy="200.2" r="2.2"/><circle cx="149.1" cy="200.3" r="2.2"/><circle cx="151.0" cy="199.7" r="2.2"/><circle cx="151.6" cy="200.5" r="2.2"/><circle cx="153.4" cy="200.5" r="2.2"/><circle cx="155.2" cy="200.3" r="2.2"/><circle cx="156.8" cy="200.2" r="2.2"/><circle cx="157.7" cy="199.5" r="2.2"/><circle cx="159.5" cy="199.9" r="2.2"/><circle cx="161.1" cy="200.5" r="2.2"/><circle cx="133.3" cy="201.6" r="2.2"/><circle cx="135.3" cy="201.4" r="2.2"/><circle cx="136.6" cy="201.3" r="2.2"/><circle cx="138.0" cy="201.7" r="2.2"/><circle cx="140.1" cy="201.2" r="2.2"/><circle cx="141.1" cy="201.5" r="2.2"/><circle cx="142.8" cy="202.0" r="2.2"/><circle cx="144.2" cy="201.3" r="2.2"/><circle cx="146.3" cy="201.1" r="2.2"/><circle cx="147.4" cy="201.3" r="2.2"/><circle cx="149.2" cy="201.6" r="2.2"/><circle cx="150.7" cy="201.1" r="2.2"/><circle cx="152.0" cy="201.6" r="2.2"/><circle cx="153.3" cy="201.8" r="2.2"/><circle cx="155.2" cy="201.0" r="2.2"/><circle cx="156.0" cy="201.3" r="2.2"/><circle cx="157.4" cy="201.0" r="2.2"/><circle cx="160.7" cy="201.0" r="2.2"/><circle cx="130.8" cy="202.6" r="2.2"/><circle cx="133.4" cy="203.3" r="2.2"/><circle cx="135.1" cy="203.1" r="2.2"/><circle cx="135.5" cy="203.0" r="2.2"/><circle cx="137.4" cy="202.6" r="2.2"/><circle cx="139.0" cy="202.4" r="2.2"/><circle cx="140.9" cy="203.2" r="2.2"/><circle cx="142.0" cy="203.5" r="2.2"/><circle cx="143.5" cy="202.7" r="2.2"/><circle cx="144.5" cy="202.6" r="2.2"/><circle cx="145.7" cy="203.3" r="2.2"/><circle cx="148.1" cy="202.8" r="2.2"/><circle cx="148.8" cy="203.2" r="2.2"/><circle cx="151.0" cy="203.5" r="2.2"/><circle cx="151.7" cy="203.3" r="2.2"/><circle cx="153.9" cy="203.3" r="2.2"/><circle cx="154.8" cy="202.6" r="2.2"/><circle cx="156.9" cy="202.8" r="2.2"/><circle cx="158.5" cy="203.1" r="2.2"/><circle cx="159.6" cy="202.4" r="2.2"/><circle cx="131.6" cy="204.5" r="2.2"/><circle cx="133.3" cy="204.6" r="2.2"/><circle cx="134.5" cy="204.7" r="2.2"/><circle cx="136.1" cy="204.4" r="2.2"/><circle cx="138.5" cy="204.0" r="2.2"/><circle cx="138.8" cy="204.4" r="2.2"/><circle cx="140.4" cy="204.8" r="2.2"/><circle cx="141.6" cy="204.9" r="2.2"/><circle cx="144.1" cy="204.8" r="2.2"/><circle cx="145.0" cy="204.2" r="2.2"/><circle cx="146.7" cy="204.5" r="2.2"/><circle cx="147.9" cy="204.3" r="2.2"/><circle cx="149.3" cy="204.7" r="2.2"/><circle cx="151.2" cy="205.0" r="2.2"/><circle cx="151.9" cy="204.3" r="2.2"/><circle cx="153.7" cy="204.6" r="2.2"/><circle cx="155.0" cy="204.1" r="2.2"/><circle cx="157.4" cy="204.3" r="2.2"/><circle cx="132.4" cy="206.1" r="2.2"/><circle cx="134.6" cy="206.0" r="2.2"/><circle cx="135.8" cy="205.8" r="2.2"/><circle cx="136.9" cy="206.5" r="2.2"/><circle cx="138.0" cy="205.6" r="2.2"/><circle cx="140.3" cy="205.9" r="2.2"/><circle cx="141.0" cy="206.2" r="2.2"/><circle cx="142.9" cy="206.1" r="2.2"/><circle cx="144.4" cy="206.0" r="2.2"/><circle cx="146.1" cy="205.9" r="2.2"/><circle cx="147.0" cy="205.6" r="2.2"/><circle cx="149.4" cy="206.1" r="2.2"/><circle cx="150.0" cy="206.4" r="2.2"/><circle cx="151.6" cy="205.5" r="2.2"/><circle cx="153.5" cy="205.7" r="2.2"/><circle cx="155.0" cy="206.1" r="2.2"/><circle cx="155.7" cy="206.0" r="2.2"/><circle cx="129.1" cy="207.0" r="2.2"/><circle cx="130.9" cy="208.1" r="2.2"/><circle cx="133.1" cy="207.0" r="2.2"/><circle cx="134.7" cy="207.4" r="2.2"/><circle cx="135.4" cy="208.1" r="2.2"/><circle cx="137.3" cy="207.8" r="2.2"/><circle cx="138.2" cy="207.8" r="2.2"/><circle cx="139.6" cy="207.2" r="2.2"/><circle cx="141.4" cy="206.9" r="2.2"/><circle cx="143.1" cy="207.2" r="2.2"/><circle cx="144.2" cy="207.7" r="2.2"/><circle cx="145.8" cy="208.0" r="2.2"/><circle cx="147.5" cy="207.9" r="2.2"/><circle cx="148.9" cy="208.0" r="2.2"/><circle cx="150.7" cy="207.1" r="2.2"/><circle cx="152.0" cy="207.3" r="2.2"/><circle cx="127.5" cy="209.3" r="2.2"/><circle cx="129.9" cy="209.5" r="2.2"/><circle cx="132.1" cy="208.7" r="2.2"/><circle cx="133.0" cy="208.9" r="2.2"/><circle cx="135.2" cy="209.1" r="2.2"/><circle cx="135.9" cy="208.4" r="2.2"/><circle cx="137.4" cy="209.4" r="2.2"/><circle cx="139.0" cy="209.1" r="2.2"/><circle cx="140.6" cy="209.2" r="2.2"/><circle cx="142.2" cy="208.6" r="2.2"/><circle cx="144.3" cy="209.0" r="2.2"/><circle cx="145.5" cy="209.4" r="2.2"/><circle cx="147.4" cy="208.4" r="2.2"/><circle cx="148.1" cy="208.6" r="2.2"/><circle cx="149.8" cy="209.4" r="2.2"/><circle cx="151.8" cy="208.4" r="2.2"/><circle cx="152.3" cy="208.9" r="2.2"/><circle cx="127.4" cy="210.0" r="2.2"/><circle cx="129.7" cy="210.6" r="2.2"/><circle cx="130.2" cy="210.1" r="2.2"/><circle cx="132.0" cy="210.5" r="2.2"/><circle cx="133.7" cy="210.4" r="2.2"/><circle cx="134.9" cy="209.9" r="2.2"/><circle cx="136.6" cy="210.3" r="2.2"/><circle cx="137.4" cy="210.5" r="2.2"/><circle cx="140.0" cy="210.0" r="2.2"/><circle cx="140.4" cy="210.7" r="2.2"/><circle cx="142.0" cy="210.2" r="2.2"/><circle cx="143.8" cy="210.2" r="2.2"/><circle cx="145.3" cy="210.5" r="2.2"/><circle cx="147.2" cy="211.1" r="2.2"/><circle cx="147.5" cy="210.6" r="2.2"/><circle cx="150.7" cy="210.7" r="2.2"/><circle cx="128.9" cy="212.0" r="2.2"/><circle cx="130.3" cy="211.8" r="2.2"/><circle cx="131.7" cy="211.9" r="2.2"/><circle cx="132.5" cy="211.8" r="2.2"/><circle cx="134.3" cy="212.6" r="2.2"/><circle cx="136.0" cy="211.8" r="2.2"/><circle cx="137.2" cy="211.7" r="2.2"/><circle cx="138.7" cy="211.6" r="2.2"/><circle cx="139.8" cy="212.4" r="2.2"/><circle cx="141.8" cy="211.9" r="2.2"/><circle cx="143.4" cy="211.8" r="2.2"/><circle cx="144.4" cy="211.5" r="2.2"/><circle cx="146.0" cy="211.8" r="2.2"/><circle cx="148.5" cy="212.5" r="2.2"/><circle cx="127.1" cy="213.8" r="2.2"/><circle cx="127.5" cy="213.5" r="2.2"/><circle cx="130.0" cy="213.2" r="2.2"/><circle cx="130.7" cy="212.9" r="2.2"/><circle cx="132.1" cy="213.2" r="2.2"/><circle cx="134.2" cy="213.2" r="2.2"/><circle cx="135.4" cy="213.1" r="2.2"/><circle cx="137.1" cy="213.9" r="2.2"/><circle cx="138.6" cy="213.1" r="2.2"/><circle cx="140.2" cy="214.1" r="2.2"/><circle cx="141.6" cy="213.0" r="2.2"/><circle cx="143.3" cy="214.0" r="2.2"/><circle cx="144.2" cy="213.1" r="2.2"/><circle cx="147.1" cy="214.0" r="2.2"/><circle cx="124.7" cy="215.2" r="2.2"/><circle cx="125.1" cy="214.5" r="2.2"/><circle cx="127.4" cy="214.8" r="2.2"/><circle cx="128.6" cy="215.1" r="2.2"/><circle cx="129.8" cy="215.0" r="2.2"/><circle cx="130.9" cy="215.5" r="2.2"/><circle cx="133.0" cy="215.6" r="2.2"/><circle cx="133.8" cy="215.1" r="2.2"/><circle cx="136.0" cy="214.8" r="2.2"/><circle cx="136.6" cy="214.6" r="2.2"/><circle cx="138.1" cy="215.3" r="2.2"/><circle cx="139.5" cy="215.4" r="2.2"/><circle cx="141.3" cy="215.0" r="2.2"/><circle cx="142.9" cy="215.1" r="2.2"/><circle cx="144.6" cy="215.1" r="2.2"/><circle cx="125.2" cy="216.4" r="2.2"/><circle cx="127.1" cy="216.1" r="2.2"/><circle cx="127.4" cy="216.5" r="2.2"/><circle cx="129.6" cy="216.8" r="2.2"/><circle cx="130.7" cy="217.1" r="2.2"/><circle cx="132.0" cy="216.8" r="2.2"/><circle cx="133.3" cy="215.9" r="2.2"/><circle cx="134.8" cy="216.0" r="2.2"/><circle cx="136.6" cy="216.6" r="2.2"/><circle cx="137.7" cy="217.0" r="2.2"/><circle cx="139.3" cy="216.1" r="2.2"/><circle cx="140.5" cy="216.8" r="2.2"/><circle cx="142.8" cy="216.1" r="2.2"/><circle cx="144.0" cy="217.1" r="2.2"/><circle cx="122.7" cy="218.4" r="2.2"/><circle cx="125.4" cy="218.2" r="2.2"/><circle cx="127.3" cy="218.4" r="2.2"/><circle cx="128.3" cy="218.1" r="2.2"/><circle cx="130.2" cy="218.5" r="2.2"/><circle cx="132.3" cy="218.2" r="2.2"/><circle cx="132.9" cy="217.7" r="2.2"/><circle cx="134.4" cy="217.9" r="2.2"/><circle cx="135.8" cy="217.6" r="2.2"/><circle cx="137.9" cy="218.2" r="2.2"/><circle cx="138.8" cy="218.6" r="2.2"/><circle cx="141.1" cy="218.1" r="2.2"/><circle cx="122.3" cy="219.2" r="2.2"/><circle cx="125.4" cy="219.4" r="2.2"/><circle cx="126.9" cy="220.0" r="2.2"/><circle cx="127.9" cy="220.0" r="2.2"/><circle cx="129.6" cy="219.8" r="2.2"/><circle cx="131.7" cy="219.1" r="2.2"/><circle cx="133.2" cy="220.1" r="2.2"/><circle cx="134.0" cy="218.9" r="2.2"/><circle cx="135.3" cy="220.1" r="2.2"/><circle cx="136.6" cy="220.0" r="2.2"/><circle cx="138.2" cy="219.8" r="2.2"/><circle cx="140.9" cy="219.0" r="2.2"/><circle cx="124.6" cy="220.4" r="2.2"/><circle cx="125.8" cy="220.7" r="2.2"/><circle cx="127.3" cy="220.5" r="2.2"/><circle cx="128.3" cy="221.6" r="2.2"/><circle cx="130.1" cy="221.5" r="2.2"/><circle cx="131.4" cy="221.0" r="2.2"/><circle cx="132.9" cy="220.9" r="2.2"/><circle cx="134.4" cy="221.2" r="2.2"/><circle cx="135.7" cy="221.3" r="2.2"/><circle cx="121.2" cy="222.8" r="2.2"/><circle cx="122.9" cy="222.0" r="2.2"/><circle cx="124.2" cy="222.5" r="2.2"/><circle cx="126.1" cy="222.6" r="2.2"/><circle cx="127.5" cy="221.9" r="2.2"/><circle cx="129.4" cy="222.7" r="2.2"/><circle cx="130.7" cy="222.6" r="2.2"/><circle cx="132.4" cy="223.1" r="2.2"/><circle cx="133.3" cy="222.8" r="2.2"/><circle cx="134.9" cy="223.1" r="2.2"/><circle cx="121.8" cy="224.1" r="2.2"/><circle cx="123.4" cy="223.7" r="2.2"/><circle cx="124.7" cy="223.5" r="2.2"/><circle cx="126.9" cy="224.3" r="2.2"/><circle cx="128.5" cy="223.5" r="2.2"/><circle cx="129.7" cy="223.8" r="2.2"/><circle cx="131.7" cy="224.1" r="2.2"/><circle cx="121.0" cy="225.8" r="2.2"/><circle cx="122.5" cy="225.5" r="2.2"/><circle cx="124.2" cy="225.7" r="2.2"/><circle cx="125.4" cy="225.7" r="2.2"/><circle cx="127.1" cy="225.2" r="2.2"/><circle cx="130.0" cy="225.8" r="2.2"/><circle cx="119.5" cy="227.0" r="2.2"/><circle cx="120.0" cy="226.6" r="2.2"/><circle cx="122.0" cy="227.0" r="2.2"/><circle cx="123.1" cy="227.4" r="2.2"/><circle cx="124.7" cy="227.4" r="2.2"/><circle cx="125.0" cy="226.9" r="2.2"/><circle cx="126.3" cy="227.4" r="2.2"/><circle cx="128.7" cy="226.5" r="2.2"/><circle cx="117.0" cy="228.4" r="2.2"/><circle cx="118.4" cy="228.7" r="2.2"/><circle cx="120.1" cy="228.8" r="2.2"/><circle cx="120.7" cy="228.7" r="2.2"/><circle cx="122.3" cy="228.5" r="2.2"/><circle cx="123.4" cy="228.3" r="2.2"/><circle cx="124.6" cy="228.4" r="2.2"/><circle cx="126.7" cy="228.0" r="2.2"/><circle cx="117.1" cy="229.8" r="2.2"/><circle cx="118.9" cy="229.9" r="2.2"/><circle cx="121.0" cy="230.1" r="2.2"/><circle cx="121.8" cy="229.5" r="2.2"/><circle cx="117.4" cy="231.3" r="2.2"/><circle cx="120.0" cy="231.3" r="2.2"/><circle cx="121.2" cy="231.3" r="2.2"/><circle cx="122.3" cy="231.8" r="2.2"/><circle cx="117.4" cy="233.1" r="2.2"/><circle cx="119.4" cy="233.0" r="2.2"/><circle cx="121.3" cy="232.9" r="2.2"/><circle cx="122.3" cy="233.5" r="2.2"/><circle cx="227.0" cy="102.1" r="2.2"/><circle cx="232.1" cy="104.3" r="2.2"/><circle cx="217.6" cy="108.3" r="2.2"/><circle cx="214.9" cy="110.9" r="2.2"/><circle cx="214.2" cy="113.4" r="2.2"/><circle cx="225.9" cy="114.4" r="2.2"/><circle cx="223.6" cy="116.6" r="2.2"/><circle cx="222.2" cy="117.7" r="2.2"/><circle cx="208.0" cy="122.6" r="2.2"/><circle cx="218.1" cy="123.2" r="2.2"/><circle cx="204.8" cy="125.8" r="2.2"/><circle cx="216.3" cy="125.5" r="2.2"/><circle cx="212.2" cy="130.6" r="2.2"/><circle cx="198.4" cy="132.1" r="2.2"/><circle cx="211.3" cy="131.7" r="2.2"/><circle cx="209.5" cy="134.7" r="2.2"/><circle cx="206.6" cy="139.5" r="2.2"/><circle cx="205.7" cy="140.1" r="2.2"/><circle cx="179.3" cy="148.7" r="2.2"/><circle cx="202.6" cy="148.1" r="2.2"/><circle cx="176.9" cy="150.4" r="2.2"/><circle cx="199.1" cy="153.1" r="2.2"/><circle cx="172.7" cy="154.5" r="2.2"/><circle cx="197.2" cy="154.1" r="2.2"/><circle cx="195.4" cy="155.8" r="2.2"/><circle cx="168.5" cy="159.8" r="2.2"/><circle cx="191.9" cy="160.8" r="2.2"/><circle cx="166.0" cy="162.1" r="2.2"/><circle cx="186.8" cy="164.5" r="2.2"/><circle cx="184.6" cy="165.7" r="2.2"/><circle cx="155.5" cy="172.3" r="2.2"/><circle cx="184.0" cy="175.5" r="2.2"/><circle cx="182.9" cy="177.1" r="2.2"/><circle cx="179.7" cy="179.9" r="2.2"/><circle cx="176.7" cy="183.8" r="2.2"/><circle cx="143.9" cy="185.1" r="2.2"/><circle cx="175.2" cy="184.5" r="2.2"/><circle cx="140.7" cy="188.2" r="2.2"/><circle cx="170.9" cy="191.7" r="2.2"/><circle cx="135.4" cy="195.3" r="2.2"/><circle cx="168.7" cy="195.7" r="2.2"/><circle cx="134.6" cy="197.2" r="2.2"/><circle cx="166.0" cy="197.9" r="2.2"/><circle cx="132.3" cy="199.6" r="2.2"/><circle cx="160.2" cy="203.1" r="2.2"/><circle cx="129.1" cy="205.3" r="2.2"/><circle cx="158.5" cy="204.8" r="2.2"/><circle cx="146.6" cy="214.2" r="2.2"/><circle cx="143.2" cy="216.6" r="2.2"/><circle cx="121.2" cy="220.1" r="2.2"/><circle cx="118.7" cy="223.0" r="2.2"/><circle cx="117.1" cy="226.5" r="2.2"/><circle cx="116.2" cy="229.6" r="2.2"/><circle cx="219.0" cy="105.0" r="2.2"/><circle cx="207.5" cy="118.0" r="2.2"/><circle cx="217.5" cy="128.5" r="2.2"/><circle cx="211.8" cy="136.0" r="2.2"/><circle cx="209.0" cy="139.0" r="2.2"/><circle cx="184.5" cy="141.5" r="2.2"/><circle cx="171.2" cy="145.3" r="2.2"/><circle cx="203.5" cy="149.0" r="2.2"/><circle cx="173.0" cy="152.0" r="2.2"/><circle cx="164.8" cy="153.8" r="2.2"/><circle cx="163.0" cy="157.0" r="2.2"/><circle cx="159.8" cy="164.0" r="2.2"/><circle cx="196.4" cy="162.6" r="2.2"/><circle cx="189.0" cy="169.0" r="2.2"/><circle cx="153.5" cy="173.5" r="2.2"/><circle cx="185.0" cy="174.5" r="2.2"/><circle cx="131.0" cy="175.5" r="2.2"/><circle cx="146.5" cy="178.0" r="2.2"/><circle cx="182.0" cy="178.0" r="2.2"/><circle cx="183.7" cy="198.2" r="2.2"/><circle cx="173.2" cy="195.8" r="2.2"/><circle cx="166.5" cy="201.8" r="2.2"/><circle cx="161.0" cy="204.5" r="2.2"/><circle cx="153.7" cy="210.8" r="2.2"/><circle cx="162.3" cy="209.5" r="2.2"/><circle cx="145.5" cy="217.2" r="2.2"/><circle cx="132.0" cy="225.5" r="2.2"/></g>
<rect x="57.52" y="30.4" width="235.08" height="271.85" fill="none" stroke="#000" stroke-opacity="0.75" stroke-width="1"/>
<path d="M66.3 302.25H283.9M66.5 302.25V305.25M120.9 302.25V305.25M175.3 302.25V305.25M229.7 302.25V305.25M284.1 302.25V305.25M57.52 40.5V292.1" fill="none" stroke="#000" stroke-opacity="0.8" stroke-width="0.9"/>
<path d="M57.12 292.5H53.92M57.12 229.5H53.92M57.12 166.5H53.92M57.12 103.5H53.92M57.12 40.5H53.92" fill="none" stroke="#000" stroke-opacity="0.5" stroke-width="1"/>
<text x="65.9" y="319.2" text-anchor="middle" font-size="11.5px">-2</text>
<text transform="translate(49.4 292.4) rotate(-90)" text-anchor="middle" font-size="11.5px">-2</text>
<text x="120.3" y="319.2" text-anchor="middle" font-size="11.5px">-1</text>
<text transform="translate(49.4 229.5) rotate(-90)" text-anchor="middle" font-size="11.5px">-1</text>
<text x="175.4" y="319.2" text-anchor="middle" font-size="11.5px">0</text>
<text transform="translate(49.4 166.6) rotate(-90)" text-anchor="middle" font-size="11.5px">0</text>
<text x="229.8" y="319.2" text-anchor="middle" font-size="11.5px">1</text>
<text transform="translate(49.4 103.7) rotate(-90)" text-anchor="middle" font-size="11.5px">1</text>
<text x="284.2" y="319.2" text-anchor="middle" font-size="11.5px">2</text>
<text transform="translate(49.4 40.8) rotate(-90)" text-anchor="middle" font-size="11.5px">2</text>
<text x="175.1" y="331" text-anchor="middle" textLength="90.6" font-size="11.6px" clip-path="url(#cl)">gene expression</text>
<text transform="translate(37.2 166.3) rotate(-90)" text-anchor="middle" textLength="91" font-size="11.6px">gene expression</text>
<text x="122.2" y="108" font-weight="bold" font-style="italic" fill="#666" textLength="58.3">Treatment</text>
<text x="122.2" y="170.3" font-weight="bold" font-style="italic">n=2</text>
<line x1="328.65" y1="301.6" x2="564" y2="30.6" stroke="#0000ff" stroke-width="0.9"/>
<g fill="#0000ff"><path d="M510.0 90.0 L505.0 95.0 L498.6 100.0 L494.6 105.0 L491.5 110.0 L483.0 115.0 L476.0 120.0 L470.0 125.0 L466.0 130.0 L457.0 135.0 L447.0 140.0 L446.5 145.0 L446.0 150.0 L441.0 155.0 L437.5 160.0 L434.5 165.0 L429.0 170.0 L421.5 175.0 L416.0 180.0 L414.7 185.0 L409.0 190.0 L404.5 195.0 L403.7 200.0 L400.0 205.0 L397.7 210.0 L394.7 215.0 L391.0 220.0 L388.7 225.0 L386.5 230.0 L385.0 234.0 L389.5 237.0 L392.7 237.0 L396.5 234.0 L398.0 230.0 L406.2 225.0 L412.2 220.0 L415.2 215.0 L419.0 210.0 L423.5 205.0 L428.7 200.0 L434.0 195.0 L437.5 190.0 L440.0 185.0 L445.0 180.0 L449.0 175.0 L451.5 170.0 L456.5 165.0 L460.0 160.0 L464.0 155.0 L468.0 150.0 L472.0 145.0 L476.0 140.0 L480.0 135.0 L484.0 130.0 L488.0 125.0 L493.0 120.0 L496.0 115.0 L499.5 110.0 L502.5 105.0 L506.5 100.0 L510.5 95.0 L514.0 90.0Z"/><circle cx="511.5" cy="90.2" r="2.2"/><circle cx="512.0" cy="89.6" r="2.2"/><circle cx="510.2" cy="90.9" r="2.2"/><circle cx="511.5" cy="91.4" r="2.2"/><circle cx="508.8" cy="92.5" r="2.2"/><circle cx="509.8" cy="92.3" r="2.2"/><circle cx="507.4" cy="94.0" r="2.2"/><circle cx="509.7" cy="94.8" r="2.2"/><circle cx="506.4" cy="95.7" r="2.2"/><circle cx="507.0" cy="96.0" r="2.2"/><circle cx="508.5" cy="96.0" r="2.2"/><circle cx="504.2" cy="96.8" r="2.2"/><circle cx="505.6" cy="97.6" r="2.2"/><circle cx="507.2" cy="96.7" r="2.2"/><circle cx="502.4" cy="98.5" r="2.2"/><circle cx="502.9" cy="99.3" r="2.2"/><circle cx="504.7" cy="99.0" r="2.2"/><circle cx="505.2" cy="99.1" r="2.2"/><circle cx="500.9" cy="100.7" r="2.2"/><circle cx="502.0" cy="100.6" r="2.2"/><circle cx="503.4" cy="100.3" r="2.2"/><circle cx="504.4" cy="100.6" r="2.2"/><circle cx="499.5" cy="102.1" r="2.2"/><circle cx="500.3" cy="102.3" r="2.2"/><circle cx="501.9" cy="102.2" r="2.2"/><circle cx="502.8" cy="102.3" r="2.2"/><circle cx="498.3" cy="102.9" r="2.2"/><circle cx="499.7" cy="102.9" r="2.2"/><circle cx="500.3" cy="103.1" r="2.2"/><circle cx="501.7" cy="103.2" r="2.2"/><circle cx="497.2" cy="104.9" r="2.2"/><circle cx="498.4" cy="104.6" r="2.2"/><circle cx="499.8" cy="105.1" r="2.2"/><circle cx="501.1" cy="105.2" r="2.2"/><circle cx="496.1" cy="106.1" r="2.2"/><circle cx="496.6" cy="106.4" r="2.2"/><circle cx="498.9" cy="106.0" r="2.2"/><circle cx="500.0" cy="106.6" r="2.2"/><circle cx="495.2" cy="107.1" r="2.2"/><circle cx="496.2" cy="107.1" r="2.2"/><circle cx="497.1" cy="108.1" r="2.2"/><circle cx="498.9" cy="107.8" r="2.2"/><circle cx="493.8" cy="109.0" r="2.2"/><circle cx="494.9" cy="109.0" r="2.2"/><circle cx="497.1" cy="109.3" r="2.2"/><circle cx="497.8" cy="108.7" r="2.2"/><circle cx="491.9" cy="110.9" r="2.2"/><circle cx="493.4" cy="110.9" r="2.2"/><circle cx="495.0" cy="110.2" r="2.2"/><circle cx="496.1" cy="110.1" r="2.2"/><circle cx="497.5" cy="110.3" r="2.2"/><circle cx="489.2" cy="112.7" r="2.2"/><circle cx="492.1" cy="112.2" r="2.2"/><circle cx="494.0" cy="112.2" r="2.2"/><circle cx="495.5" cy="112.2" r="2.2"/><circle cx="488.5" cy="113.5" r="2.2"/><circle cx="490.2" cy="113.7" r="2.2"/><circle cx="490.9" cy="114.2" r="2.2"/><circle cx="492.8" cy="113.9" r="2.2"/><circle cx="494.4" cy="113.8" r="2.2"/><circle cx="486.7" cy="115.2" r="2.2"/><circle cx="486.8" cy="115.6" r="2.2"/><circle cx="488.9" cy="115.3" r="2.2"/><circle cx="489.9" cy="115.5" r="2.2"/><circle cx="491.8" cy="115.5" r="2.2"/><circle cx="492.1" cy="114.6" r="2.2"/><circle cx="494.1" cy="115.7" r="2.2"/><circle cx="482.9" cy="116.2" r="2.2"/><circle cx="484.9" cy="116.8" r="2.2"/><circle cx="486.4" cy="117.3" r="2.2"/><circle cx="488.0" cy="117.1" r="2.2"/><circle cx="489.3" cy="116.6" r="2.2"/><circle cx="491.0" cy="117.0" r="2.2"/><circle cx="491.9" cy="116.4" r="2.2"/><circle cx="492.5" cy="117.1" r="2.2"/><circle cx="480.8" cy="118.7" r="2.2"/><circle cx="481.6" cy="118.0" r="2.2"/><circle cx="483.2" cy="118.8" r="2.2"/><circle cx="485.4" cy="117.8" r="2.2"/><circle cx="486.1" cy="118.7" r="2.2"/><circle cx="487.4" cy="118.0" r="2.2"/><circle cx="489.2" cy="117.7" r="2.2"/><circle cx="491.5" cy="118.1" r="2.2"/><circle cx="480.2" cy="119.5" r="2.2"/><circle cx="481.2" cy="119.8" r="2.2"/><circle cx="482.8" cy="120.0" r="2.2"/><circle cx="483.8" cy="119.5" r="2.2"/><circle cx="486.0" cy="119.7" r="2.2"/><circle cx="486.7" cy="119.9" r="2.2"/><circle cx="488.1" cy="120.0" r="2.2"/><circle cx="489.6" cy="120.1" r="2.2"/><circle cx="490.6" cy="119.4" r="2.2"/><circle cx="477.6" cy="121.6" r="2.2"/><circle cx="479.6" cy="121.8" r="2.2"/><circle cx="481.1" cy="121.4" r="2.2"/><circle cx="482.8" cy="121.1" r="2.2"/><circle cx="484.5" cy="121.5" r="2.2"/><circle cx="485.2" cy="121.1" r="2.2"/><circle cx="487.3" cy="121.0" r="2.2"/><circle cx="488.4" cy="121.6" r="2.2"/><circle cx="489.6" cy="121.7" r="2.2"/><circle cx="475.2" cy="122.6" r="2.2"/><circle cx="476.2" cy="122.8" r="2.2"/><circle cx="477.1" cy="123.1" r="2.2"/><circle cx="479.1" cy="123.1" r="2.2"/><circle cx="479.7" cy="122.9" r="2.2"/><circle cx="481.8" cy="122.7" r="2.2"/><circle cx="483.4" cy="123.2" r="2.2"/><circle cx="484.6" cy="123.1" r="2.2"/><circle cx="485.8" cy="123.2" r="2.2"/><circle cx="488.6" cy="122.4" r="2.2"/><circle cx="472.4" cy="123.9" r="2.2"/><circle cx="476.0" cy="124.0" r="2.2"/><circle cx="477.3" cy="123.7" r="2.2"/><circle cx="478.9" cy="124.0" r="2.2"/><circle cx="479.3" cy="124.4" r="2.2"/><circle cx="480.9" cy="123.9" r="2.2"/><circle cx="482.2" cy="124.1" r="2.2"/><circle cx="484.2" cy="124.6" r="2.2"/><circle cx="485.1" cy="124.6" r="2.2"/><circle cx="487.0" cy="124.0" r="2.2"/><circle cx="471.9" cy="126.1" r="2.2"/><circle cx="473.2" cy="125.7" r="2.2"/><circle cx="473.6" cy="125.7" r="2.2"/><circle cx="475.5" cy="125.2" r="2.2"/><circle cx="477.2" cy="126.0" r="2.2"/><circle cx="478.5" cy="125.6" r="2.2"/><circle cx="479.9" cy="125.8" r="2.2"/><circle cx="481.0" cy="126.1" r="2.2"/><circle cx="483.3" cy="126.1" r="2.2"/><circle cx="485.5" cy="125.7" r="2.2"/><circle cx="469.9" cy="127.5" r="2.2"/><circle cx="471.1" cy="127.1" r="2.2"/><circle cx="473.3" cy="127.2" r="2.2"/><circle cx="474.3" cy="126.8" r="2.2"/><circle cx="476.1" cy="126.8" r="2.2"/><circle cx="477.0" cy="127.3" r="2.2"/><circle cx="478.9" cy="127.8" r="2.2"/><circle cx="480.4" cy="127.7" r="2.2"/><circle cx="482.0" cy="127.5" r="2.2"/><circle cx="482.1" cy="126.7" r="2.2"/><circle cx="469.2" cy="128.5" r="2.2"/><circle cx="469.8" cy="128.5" r="2.2"/><circle cx="471.6" cy="129.2" r="2.2"/><circle cx="473.6" cy="128.6" r="2.2"/><circle cx="474.1" cy="128.2" r="2.2"/><circle cx="475.6" cy="129.0" r="2.2"/><circle cx="477.4" cy="129.3" r="2.2"/><circle cx="479.4" cy="129.1" r="2.2"/><circle cx="480.3" cy="129.1" r="2.2"/><circle cx="481.7" cy="128.2" r="2.2"/><circle cx="483.8" cy="128.4" r="2.2"/><circle cx="469.5" cy="130.5" r="2.2"/><circle cx="470.8" cy="129.8" r="2.2"/><circle cx="471.3" cy="129.9" r="2.2"/><circle cx="473.4" cy="130.1" r="2.2"/><circle cx="474.2" cy="130.6" r="2.2"/><circle cx="476.5" cy="130.2" r="2.2"/><circle cx="477.1" cy="130.7" r="2.2"/><circle cx="479.1" cy="129.7" r="2.2"/><circle cx="481.5" cy="130.4" r="2.2"/><circle cx="465.0" cy="131.6" r="2.2"/><circle cx="466.4" cy="131.3" r="2.2"/><circle cx="467.9" cy="131.9" r="2.2"/><circle cx="469.1" cy="131.2" r="2.2"/><circle cx="470.9" cy="131.2" r="2.2"/><circle cx="472.0" cy="131.6" r="2.2"/><circle cx="473.7" cy="132.0" r="2.2"/><circle cx="474.6" cy="131.9" r="2.2"/><circle cx="476.6" cy="131.7" r="2.2"/><circle cx="477.4" cy="132.2" r="2.2"/><circle cx="480.1" cy="131.2" r="2.2"/><circle cx="465.4" cy="132.6" r="2.2"/><circle cx="465.9" cy="132.9" r="2.2"/><circle cx="468.5" cy="132.9" r="2.2"/><circle cx="469.6" cy="133.7" r="2.2"/><circle cx="471.0" cy="133.7" r="2.2"/><circle cx="472.0" cy="132.8" r="2.2"/><circle cx="473.2" cy="133.5" r="2.2"/><circle cx="474.7" cy="133.8" r="2.2"/><circle cx="476.9" cy="132.8" r="2.2"/><circle cx="477.5" cy="132.8" r="2.2"/><circle cx="460.0" cy="135.1" r="2.2"/><circle cx="461.4" cy="134.8" r="2.2"/><circle cx="461.8" cy="134.2" r="2.2"/><circle cx="463.9" cy="134.4" r="2.2"/><circle cx="465.1" cy="134.1" r="2.2"/><circle cx="467.0" cy="134.1" r="2.2"/><circle cx="468.6" cy="135.1" r="2.2"/><circle cx="469.6" cy="134.2" r="2.2"/><circle cx="471.3" cy="134.3" r="2.2"/><circle cx="472.4" cy="134.2" r="2.2"/><circle cx="474.6" cy="134.8" r="2.2"/><circle cx="475.3" cy="134.2" r="2.2"/><circle cx="478.8" cy="134.5" r="2.2"/><circle cx="457.4" cy="135.6" r="2.2"/><circle cx="459.7" cy="136.3" r="2.2"/><circle cx="460.9" cy="136.1" r="2.2"/><circle cx="462.3" cy="136.3" r="2.2"/><circle cx="464.0" cy="136.7" r="2.2"/><circle cx="465.6" cy="136.6" r="2.2"/><circle cx="467.3" cy="136.6" r="2.2"/><circle cx="468.6" cy="135.6" r="2.2"/><circle cx="470.0" cy="136.6" r="2.2"/><circle cx="471.2" cy="136.7" r="2.2"/><circle cx="472.3" cy="136.7" r="2.2"/><circle cx="474.1" cy="136.4" r="2.2"/><circle cx="475.4" cy="136.0" r="2.2"/><circle cx="456.2" cy="137.4" r="2.2"/><circle cx="457.9" cy="137.1" r="2.2"/><circle cx="459.2" cy="138.2" r="2.2"/><circle cx="461.5" cy="137.5" r="2.2"/><circle cx="462.8" cy="138.0" r="2.2"/><circle cx="464.4" cy="138.1" r="2.2"/><circle cx="465.5" cy="137.2" r="2.2"/><circle cx="467.4" cy="137.5" r="2.2"/><circle cx="468.6" cy="137.5" r="2.2"/><circle cx="470.0" cy="138.3" r="2.2"/><circle cx="471.0" cy="137.7" r="2.2"/><circle cx="473.1" cy="137.7" r="2.2"/><circle cx="475.5" cy="138.3" r="2.2"/><circle cx="450.1" cy="139.7" r="2.2"/><circle cx="451.8" cy="139.8" r="2.2"/><circle cx="453.6" cy="139.4" r="2.2"/><circle cx="455.1" cy="139.5" r="2.2"/><circle cx="455.9" cy="138.9" r="2.2"/><circle cx="457.1" cy="139.4" r="2.2"/><circle cx="458.7" cy="138.9" r="2.2"/><circle cx="461.0" cy="139.4" r="2.2"/><circle cx="462.0" cy="139.4" r="2.2"/><circle cx="463.5" cy="139.4" r="2.2"/><circle cx="464.5" cy="138.7" r="2.2"/><circle cx="465.7" cy="138.6" r="2.2"/><circle cx="467.4" cy="138.8" r="2.2"/><circle cx="468.6" cy="139.2" r="2.2"/><circle cx="471.0" cy="139.4" r="2.2"/><circle cx="471.6" cy="139.5" r="2.2"/><circle cx="473.2" cy="138.7" r="2.2"/><circle cx="449.4" cy="141.2" r="2.2"/><circle cx="450.9" cy="141.1" r="2.2"/><circle cx="452.1" cy="140.9" r="2.2"/><circle cx="452.9" cy="140.1" r="2.2"/><circle cx="454.3" cy="141.2" r="2.2"/><circle cx="455.7" cy="140.9" r="2.2"/><circle cx="457.7" cy="140.9" r="2.2"/><circle cx="458.6" cy="140.3" r="2.2"/><circle cx="460.0" cy="141.3" r="2.2"/><circle cx="461.8" cy="140.9" r="2.2"/><circle cx="463.4" cy="140.4" r="2.2"/><circle cx="464.3" cy="140.1" r="2.2"/><circle cx="466.7" cy="140.3" r="2.2"/><circle cx="468.3" cy="140.5" r="2.2"/><circle cx="469.4" cy="140.3" r="2.2"/><circle cx="471.0" cy="140.4" r="2.2"/><circle cx="471.7" cy="140.7" r="2.2"/><circle cx="474.0" cy="140.4" r="2.2"/><circle cx="448.5" cy="141.8" r="2.2"/><circle cx="450.8" cy="142.4" r="2.2"/><circle cx="451.1" cy="142.4" r="2.2"/><circle cx="453.5" cy="141.9" r="2.2"/><circle cx="454.0" cy="142.1" r="2.2"/><circle cx="455.6" cy="142.2" r="2.2"/><circle cx="457.8" cy="141.7" r="2.2"/><circle cx="458.6" cy="142.2" r="2.2"/><circle cx="460.1" cy="141.9" r="2.2"/><circle cx="461.9" cy="141.7" r="2.2"/><circle cx="462.9" cy="142.0" r="2.2"/><circle cx="464.9" cy="142.7" r="2.2"/><circle cx="466.5" cy="141.7" r="2.2"/><circle cx="467.6" cy="142.5" r="2.2"/><circle cx="469.5" cy="142.6" r="2.2"/><circle cx="471.6" cy="142.6" r="2.2"/><circle cx="472.9" cy="141.9" r="2.2"/><circle cx="449.2" cy="143.2" r="2.2"/><circle cx="449.9" cy="144.0" r="2.2"/><circle cx="451.1" cy="143.3" r="2.2"/><circle cx="453.0" cy="143.5" r="2.2"/><circle cx="453.7" cy="144.3" r="2.2"/><circle cx="455.6" cy="143.3" r="2.2"/><circle cx="456.4" cy="143.9" r="2.2"/><circle cx="458.4" cy="143.1" r="2.2"/><circle cx="459.8" cy="144.0" r="2.2"/><circle cx="461.3" cy="143.4" r="2.2"/><circle cx="462.7" cy="143.8" r="2.2"/><circle cx="464.3" cy="143.3" r="2.2"/><circle cx="465.9" cy="144.2" r="2.2"/><circle cx="467.2" cy="144.1" r="2.2"/><circle cx="468.2" cy="144.2" r="2.2"/><circle cx="470.4" cy="143.4" r="2.2"/><circle cx="471.0" cy="143.4" r="2.2"/><circle cx="450.1" cy="145.7" r="2.2"/><circle cx="450.7" cy="145.7" r="2.2"/><circle cx="452.4" cy="145.2" r="2.2"/><circle cx="454.1" cy="145.7" r="2.2"/><circle cx="455.6" cy="145.8" r="2.2"/><circle cx="457.1" cy="144.9" r="2.2"/><circle cx="458.8" cy="144.8" r="2.2"/><circle cx="460.5" cy="145.1" r="2.2"/><circle cx="461.0" cy="145.8" r="2.2"/><circle cx="462.5" cy="145.1" r="2.2"/><circle cx="464.0" cy="145.4" r="2.2"/><circle cx="465.1" cy="145.0" r="2.2"/><circle cx="466.7" cy="145.6" r="2.2"/><circle cx="468.4" cy="145.3" r="2.2"/><circle cx="469.5" cy="145.5" r="2.2"/><circle cx="447.6" cy="147.3" r="2.2"/><circle cx="450.6" cy="146.4" r="2.2"/><circle cx="452.2" cy="146.8" r="2.2"/><circle cx="454.0" cy="146.6" r="2.2"/><circle cx="456.0" cy="146.9" r="2.2"/><circle cx="457.5" cy="147.2" r="2.2"/><circle cx="458.2" cy="147.2" r="2.2"/><circle cx="459.8" cy="146.2" r="2.2"/><circle cx="461.9" cy="146.2" r="2.2"/><circle cx="462.3" cy="146.4" r="2.2"/><circle cx="464.1" cy="147.3" r="2.2"/><circle cx="466.3" cy="146.6" r="2.2"/><circle cx="468.3" cy="146.7" r="2.2"/><circle cx="448.9" cy="148.8" r="2.2"/><circle cx="451.6" cy="148.3" r="2.2"/><circle cx="452.2" cy="148.4" r="2.2"/><circle cx="453.8" cy="147.9" r="2.2"/><circle cx="455.4" cy="148.2" r="2.2"/><circle cx="457.3" cy="147.7" r="2.2"/><circle cx="458.8" cy="148.3" r="2.2"/><circle cx="460.0" cy="148.4" r="2.2"/><circle cx="461.9" cy="147.6" r="2.2"/><circle cx="463.0" cy="148.4" r="2.2"/><circle cx="464.8" cy="148.4" r="2.2"/><circle cx="450.6" cy="149.9" r="2.2"/><circle cx="452.5" cy="149.3" r="2.2"/><circle cx="453.3" cy="149.4" r="2.2"/><circle cx="454.7" cy="149.1" r="2.2"/><circle cx="456.0" cy="149.6" r="2.2"/><circle cx="457.7" cy="149.2" r="2.2"/><circle cx="459.4" cy="150.2" r="2.2"/><circle cx="460.8" cy="149.5" r="2.2"/><circle cx="462.3" cy="149.6" r="2.2"/><circle cx="463.1" cy="149.7" r="2.2"/><circle cx="464.7" cy="149.9" r="2.2"/><circle cx="449.3" cy="150.9" r="2.2"/><circle cx="451.3" cy="151.3" r="2.2"/><circle cx="452.8" cy="151.7" r="2.2"/><circle cx="453.9" cy="150.8" r="2.2"/><circle cx="454.6" cy="151.2" r="2.2"/><circle cx="456.9" cy="150.9" r="2.2"/><circle cx="457.5" cy="150.6" r="2.2"/><circle cx="459.1" cy="151.4" r="2.2"/><circle cx="460.3" cy="150.9" r="2.2"/><circle cx="462.0" cy="151.5" r="2.2"/><circle cx="464.4" cy="150.6" r="2.2"/><circle cx="465.2" cy="150.8" r="2.2"/><circle cx="444.8" cy="152.6" r="2.2"/><circle cx="446.0" cy="152.2" r="2.2"/><circle cx="448.2" cy="152.9" r="2.2"/><circle cx="449.2" cy="153.1" r="2.2"/><circle cx="451.2" cy="152.5" r="2.2"/><circle cx="452.4" cy="152.3" r="2.2"/><circle cx="454.4" cy="152.8" r="2.2"/><circle cx="454.8" cy="152.3" r="2.2"/><circle cx="457.0" cy="152.6" r="2.2"/><circle cx="458.4" cy="152.4" r="2.2"/><circle cx="460.0" cy="153.1" r="2.2"/><circle cx="460.6" cy="152.8" r="2.2"/><circle cx="464.2" cy="152.4" r="2.2"/><circle cx="443.8" cy="153.8" r="2.2"/><circle cx="444.8" cy="154.4" r="2.2"/><circle cx="446.5" cy="154.2" r="2.2"/><circle cx="448.4" cy="153.6" r="2.2"/><circle cx="449.8" cy="153.9" r="2.2"/><circle cx="450.8" cy="154.4" r="2.2"/><circle cx="452.7" cy="154.3" r="2.2"/><circle cx="454.4" cy="153.8" r="2.2"/><circle cx="455.2" cy="154.4" r="2.2"/><circle cx="456.6" cy="153.8" r="2.2"/><circle cx="458.0" cy="154.5" r="2.2"/><circle cx="460.2" cy="154.5" r="2.2"/><circle cx="461.0" cy="154.6" r="2.2"/><circle cx="441.9" cy="155.2" r="2.2"/><circle cx="443.4" cy="156.2" r="2.2"/><circle cx="444.9" cy="155.7" r="2.2"/><circle cx="446.9" cy="155.5" r="2.2"/><circle cx="448.6" cy="155.7" r="2.2"/><circle cx="450.1" cy="155.2" r="2.2"/><circle cx="450.7" cy="155.6" r="2.2"/><circle cx="452.7" cy="155.4" r="2.2"/><circle cx="454.4" cy="155.4" r="2.2"/><circle cx="455.4" cy="155.7" r="2.2"/><circle cx="457.4" cy="156.0" r="2.2"/><circle cx="458.4" cy="155.6" r="2.2"/><circle cx="443.0" cy="156.8" r="2.2"/><circle cx="444.0" cy="156.7" r="2.2"/><circle cx="446.0" cy="157.5" r="2.2"/><circle cx="447.1" cy="156.7" r="2.2"/><circle cx="448.5" cy="156.7" r="2.2"/><circle cx="450.7" cy="156.7" r="2.2"/><circle cx="451.3" cy="157.5" r="2.2"/><circle cx="452.6" cy="156.7" r="2.2"/><circle cx="454.0" cy="156.8" r="2.2"/><circle cx="456.0" cy="157.6" r="2.2"/><circle cx="457.0" cy="156.8" r="2.2"/><circle cx="458.3" cy="157.1" r="2.2"/><circle cx="460.0" cy="157.8" r="2.2"/><circle cx="443.0" cy="158.7" r="2.2"/><circle cx="444.9" cy="159.0" r="2.2"/><circle cx="445.7" cy="158.3" r="2.2"/><circle cx="448.1" cy="158.2" r="2.2"/><circle cx="449.4" cy="158.5" r="2.2"/><circle cx="450.1" cy="158.4" r="2.2"/><circle cx="451.9" cy="159.3" r="2.2"/><circle cx="452.9" cy="159.1" r="2.2"/><circle cx="454.6" cy="158.3" r="2.2"/><circle cx="456.5" cy="158.5" r="2.2"/><circle cx="459.6" cy="158.8" r="2.2"/><circle cx="441.9" cy="160.0" r="2.2"/><circle cx="443.4" cy="160.0" r="2.2"/><circle cx="444.9" cy="159.7" r="2.2"/><circle cx="446.1" cy="160.7" r="2.2"/><circle cx="447.8" cy="160.4" r="2.2"/><circle cx="449.8" cy="160.5" r="2.2"/><circle cx="450.5" cy="160.7" r="2.2"/><circle cx="452.6" cy="160.8" r="2.2"/><circle cx="453.9" cy="160.5" r="2.2"/><circle cx="455.5" cy="159.9" r="2.2"/><circle cx="458.5" cy="160.2" r="2.2"/><circle cx="441.5" cy="161.9" r="2.2"/><circle cx="442.8" cy="161.2" r="2.2"/><circle cx="444.5" cy="161.8" r="2.2"/><circle cx="445.5" cy="161.5" r="2.2"/><circle cx="447.3" cy="162.0" r="2.2"/><circle cx="448.8" cy="161.4" r="2.2"/><circle cx="449.6" cy="161.4" r="2.2"/><circle cx="450.7" cy="161.5" r="2.2"/><circle cx="452.1" cy="162.1" r="2.2"/><circle cx="453.7" cy="161.2" r="2.2"/><circle cx="455.4" cy="162.0" r="2.2"/><circle cx="440.1" cy="163.6" r="2.2"/><circle cx="441.8" cy="162.7" r="2.2"/><circle cx="443.2" cy="163.6" r="2.2"/><circle cx="444.6" cy="163.2" r="2.2"/><circle cx="445.9" cy="163.7" r="2.2"/><circle cx="447.6" cy="162.8" r="2.2"/><circle cx="448.6" cy="163.0" r="2.2"/><circle cx="450.8" cy="163.4" r="2.2"/><circle cx="451.2" cy="163.7" r="2.2"/><circle cx="452.5" cy="163.3" r="2.2"/><circle cx="453.8" cy="163.5" r="2.2"/><circle cx="440.0" cy="164.6" r="2.2"/><circle cx="440.6" cy="165.0" r="2.2"/><circle cx="442.7" cy="164.3" r="2.2"/><circle cx="443.4" cy="164.5" r="2.2"/><circle cx="445.3" cy="164.3" r="2.2"/><circle cx="446.5" cy="164.7" r="2.2"/><circle cx="448.0" cy="164.3" r="2.2"/><circle cx="449.7" cy="165.3" r="2.2"/><circle cx="450.7" cy="165.1" r="2.2"/><circle cx="451.6" cy="165.2" r="2.2"/><circle cx="454.0" cy="165.2" r="2.2"/><circle cx="438.0" cy="165.8" r="2.2"/><circle cx="439.5" cy="166.6" r="2.2"/><circle cx="440.6" cy="166.3" r="2.2"/><circle cx="441.8" cy="165.9" r="2.2"/><circle cx="443.4" cy="166.2" r="2.2"/><circle cx="444.9" cy="165.7" r="2.2"/><circle cx="445.8" cy="166.0" r="2.2"/><circle cx="448.0" cy="166.5" r="2.2"/><circle cx="448.9" cy="165.9" r="2.2"/><circle cx="450.6" cy="165.8" r="2.2"/><circle cx="452.1" cy="166.7" r="2.2"/><circle cx="436.2" cy="167.2" r="2.2"/><circle cx="437.2" cy="168.1" r="2.2"/><circle cx="439.3" cy="167.3" r="2.2"/><circle cx="440.5" cy="167.9" r="2.2"/><circle cx="442.6" cy="167.5" r="2.2"/><circle cx="443.7" cy="167.4" r="2.2"/><circle cx="444.4" cy="167.3" r="2.2"/><circle cx="446.1" cy="167.8" r="2.2"/><circle cx="447.4" cy="167.3" r="2.2"/><circle cx="448.7" cy="167.2" r="2.2"/><circle cx="450.0" cy="167.5" r="2.2"/><circle cx="431.3" cy="169.7" r="2.2"/><circle cx="432.5" cy="168.8" r="2.2"/><circle cx="434.9" cy="169.8" r="2.2"/><circle cx="436.0" cy="169.0" r="2.2"/><circle cx="437.4" cy="169.0" r="2.2"/><circle cx="439.2" cy="169.1" r="2.2"/><circle cx="440.0" cy="169.6" r="2.2"/><circle cx="441.9" cy="168.6" r="2.2"/><circle cx="443.7" cy="169.5" r="2.2"/><circle cx="444.5" cy="169.4" r="2.2"/><circle cx="446.6" cy="169.1" r="2.2"/><circle cx="447.5" cy="169.0" r="2.2"/><circle cx="451.0" cy="168.8" r="2.2"/><circle cx="431.2" cy="171.2" r="2.2"/><circle cx="432.5" cy="170.2" r="2.2"/><circle cx="434.8" cy="171.1" r="2.2"/><circle cx="435.3" cy="170.5" r="2.2"/><circle cx="437.3" cy="170.7" r="2.2"/><circle cx="438.6" cy="171.2" r="2.2"/><circle cx="440.1" cy="170.7" r="2.2"/><circle cx="442.3" cy="170.9" r="2.2"/><circle cx="443.3" cy="170.5" r="2.2"/><circle cx="444.6" cy="170.8" r="2.2"/><circle cx="446.6" cy="170.4" r="2.2"/><circle cx="448.4" cy="170.6" r="2.2"/><circle cx="449.8" cy="170.4" r="2.2"/><circle cx="427.1" cy="172.4" r="2.2"/><circle cx="428.7" cy="172.6" r="2.2"/><circle cx="430.1" cy="171.9" r="2.2"/><circle cx="432.4" cy="172.5" r="2.2"/><circle cx="434.1" cy="172.7" r="2.2"/><circle cx="435.1" cy="172.7" r="2.2"/><circle cx="436.1" cy="172.7" r="2.2"/><circle cx="438.0" cy="171.8" r="2.2"/><circle cx="439.8" cy="172.6" r="2.2"/><circle cx="440.9" cy="171.7" r="2.2"/><circle cx="443.0" cy="172.5" r="2.2"/><circle cx="444.1" cy="172.8" r="2.2"/><circle cx="445.0" cy="171.7" r="2.2"/><circle cx="448.0" cy="171.7" r="2.2"/><circle cx="426.7" cy="174.3" r="2.2"/><circle cx="428.0" cy="173.4" r="2.2"/><circle cx="430.4" cy="174.3" r="2.2"/><circle cx="431.6" cy="173.3" r="2.2"/><circle cx="432.4" cy="173.3" r="2.2"/><circle cx="434.1" cy="174.0" r="2.2"/><circle cx="435.3" cy="173.7" r="2.2"/><circle cx="437.5" cy="173.1" r="2.2"/><circle cx="438.7" cy="174.0" r="2.2"/><circle cx="440.4" cy="173.6" r="2.2"/><circle cx="442.2" cy="173.8" r="2.2"/><circle cx="443.1" cy="173.6" r="2.2"/><circle cx="445.3" cy="174.1" r="2.2"/><circle cx="445.7" cy="173.8" r="2.2"/><circle cx="448.2" cy="173.9" r="2.2"/><circle cx="423.7" cy="175.2" r="2.2"/><circle cx="425.0" cy="175.4" r="2.2"/><circle cx="426.0" cy="175.8" r="2.2"/><circle cx="428.2" cy="175.7" r="2.2"/><circle cx="429.3" cy="175.0" r="2.2"/><circle cx="430.5" cy="174.9" r="2.2"/><circle cx="432.6" cy="175.6" r="2.2"/><circle cx="433.9" cy="175.6" r="2.2"/><circle cx="435.6" cy="175.4" r="2.2"/><circle cx="436.3" cy="175.5" r="2.2"/><circle cx="437.7" cy="175.3" r="2.2"/><circle cx="439.1" cy="175.6" r="2.2"/><circle cx="441.0" cy="174.9" r="2.2"/><circle cx="443.0" cy="174.7" r="2.2"/><circle cx="444.5" cy="175.5" r="2.2"/><circle cx="446.1" cy="175.5" r="2.2"/><circle cx="421.2" cy="177.0" r="2.2"/><circle cx="423.3" cy="177.1" r="2.2"/><circle cx="424.1" cy="177.0" r="2.2"/><circle cx="426.0" cy="176.2" r="2.2"/><circle cx="427.2" cy="177.0" r="2.2"/><circle cx="428.3" cy="176.9" r="2.2"/><circle cx="429.8" cy="176.5" r="2.2"/><circle cx="432.0" cy="177.2" r="2.2"/><circle cx="433.5" cy="176.6" r="2.2"/><circle cx="434.4" cy="177.1" r="2.2"/><circle cx="436.1" cy="176.6" r="2.2"/><circle cx="437.6" cy="176.6" r="2.2"/><circle cx="439.2" cy="176.7" r="2.2"/><circle cx="439.6" cy="177.0" r="2.2"/><circle cx="441.0" cy="176.9" r="2.2"/><circle cx="442.4" cy="177.3" r="2.2"/><circle cx="444.5" cy="177.0" r="2.2"/><circle cx="420.4" cy="178.2" r="2.2"/><circle cx="421.3" cy="177.6" r="2.2"/><circle cx="423.0" cy="178.5" r="2.2"/><circle cx="424.0" cy="178.7" r="2.2"/><circle cx="425.3" cy="177.8" r="2.2"/><circle cx="427.5" cy="177.7" r="2.2"/><circle cx="428.2" cy="178.2" r="2.2"/><circle cx="429.8" cy="177.8" r="2.2"/><circle cx="432.0" cy="178.2" r="2.2"/><circle cx="433.3" cy="177.9" r="2.2"/><circle cx="434.9" cy="177.9" r="2.2"/><circle cx="436.3" cy="178.3" r="2.2"/><circle cx="437.9" cy="178.5" r="2.2"/><circle cx="438.9" cy="178.2" r="2.2"/><circle cx="440.6" cy="178.1" r="2.2"/><circle cx="441.2" cy="178.7" r="2.2"/><circle cx="418.5" cy="180.2" r="2.2"/><circle cx="419.1" cy="179.6" r="2.2"/><circle cx="421.1" cy="179.7" r="2.2"/><circle cx="422.4" cy="179.5" r="2.2"/><circle cx="424.2" cy="180.0" r="2.2"/><circle cx="425.7" cy="179.3" r="2.2"/><circle cx="427.6" cy="179.5" r="2.2"/><circle cx="429.1" cy="180.3" r="2.2"/><circle cx="429.6" cy="179.8" r="2.2"/><circle cx="432.1" cy="179.6" r="2.2"/><circle cx="433.1" cy="179.5" r="2.2"/><circle cx="433.9" cy="179.3" r="2.2"/><circle cx="435.5" cy="179.4" r="2.2"/><circle cx="437.6" cy="179.8" r="2.2"/><circle cx="439.4" cy="179.9" r="2.2"/><circle cx="440.2" cy="180.2" r="2.2"/><circle cx="418.3" cy="181.8" r="2.2"/><circle cx="418.5" cy="180.6" r="2.2"/><circle cx="420.5" cy="180.7" r="2.2"/><circle cx="422.3" cy="181.4" r="2.2"/><circle cx="423.5" cy="181.7" r="2.2"/><circle cx="425.3" cy="181.4" r="2.2"/><circle cx="426.4" cy="180.6" r="2.2"/><circle cx="427.1" cy="181.1" r="2.2"/><circle cx="429.6" cy="181.0" r="2.2"/><circle cx="430.5" cy="180.6" r="2.2"/><circle cx="431.8" cy="181.7" r="2.2"/><circle cx="433.4" cy="181.6" r="2.2"/><circle cx="434.2" cy="180.8" r="2.2"/><circle cx="435.8" cy="181.6" r="2.2"/><circle cx="437.1" cy="181.7" r="2.2"/><circle cx="438.8" cy="181.7" r="2.2"/><circle cx="442.4" cy="181.4" r="2.2"/><circle cx="418.9" cy="182.3" r="2.2"/><circle cx="420.6" cy="183.3" r="2.2"/><circle cx="422.1" cy="182.8" r="2.2"/><circle cx="423.2" cy="182.3" r="2.2"/><circle cx="424.7" cy="182.8" r="2.2"/><circle cx="425.7" cy="183.2" r="2.2"/><circle cx="427.1" cy="182.3" r="2.2"/><circle cx="428.4" cy="182.3" r="2.2"/><circle cx="430.4" cy="183.1" r="2.2"/><circle cx="431.3" cy="182.7" r="2.2"/><circle cx="433.2" cy="182.8" r="2.2"/><circle cx="434.5" cy="182.8" r="2.2"/><circle cx="435.5" cy="182.2" r="2.2"/><circle cx="437.4" cy="182.4" r="2.2"/><circle cx="440.2" cy="182.2" r="2.2"/><circle cx="417.1" cy="184.5" r="2.2"/><circle cx="419.0" cy="184.1" r="2.2"/><circle cx="419.9" cy="183.8" r="2.2"/><circle cx="420.7" cy="183.7" r="2.2"/><circle cx="422.5" cy="183.7" r="2.2"/><circle cx="424.4" cy="184.1" r="2.2"/><circle cx="425.4" cy="184.2" r="2.2"/><circle cx="427.6" cy="183.9" r="2.2"/><circle cx="428.2" cy="184.0" r="2.2"/><circle cx="429.9" cy="184.7" r="2.2"/><circle cx="431.8" cy="184.1" r="2.2"/><circle cx="432.6" cy="183.7" r="2.2"/><circle cx="434.0" cy="184.6" r="2.2"/><circle cx="436.1" cy="183.8" r="2.2"/><circle cx="437.2" cy="183.7" r="2.2"/><circle cx="417.9" cy="185.9" r="2.2"/><circle cx="418.1" cy="185.4" r="2.2"/><circle cx="420.1" cy="185.3" r="2.2"/><circle cx="421.2" cy="185.9" r="2.2"/><circle cx="423.7" cy="185.5" r="2.2"/><circle cx="424.3" cy="185.9" r="2.2"/><circle cx="425.7" cy="185.6" r="2.2"/><circle cx="427.7" cy="185.6" r="2.2"/><circle cx="428.6" cy="185.2" r="2.2"/><circle cx="430.5" cy="186.3" r="2.2"/><circle cx="432.4" cy="185.2" r="2.2"/><circle cx="433.4" cy="185.7" r="2.2"/><circle cx="434.5" cy="185.9" r="2.2"/><circle cx="437.0" cy="186.1" r="2.2"/><circle cx="437.7" cy="185.7" r="2.2"/><circle cx="415.9" cy="187.8" r="2.2"/><circle cx="417.3" cy="186.7" r="2.2"/><circle cx="418.2" cy="186.7" r="2.2"/><circle cx="419.9" cy="187.5" r="2.2"/><circle cx="421.1" cy="187.4" r="2.2"/><circle cx="422.5" cy="187.5" r="2.2"/><circle cx="423.8" cy="187.8" r="2.2"/><circle cx="425.5" cy="186.6" r="2.2"/><circle cx="426.5" cy="187.5" r="2.2"/><circle cx="428.8" cy="187.4" r="2.2"/><circle cx="429.4" cy="187.6" r="2.2"/><circle cx="431.5" cy="186.7" r="2.2"/><circle cx="432.6" cy="187.4" r="2.2"/><circle cx="433.5" cy="186.7" r="2.2"/><circle cx="413.4" cy="189.2" r="2.2"/><circle cx="415.4" cy="188.7" r="2.2"/><circle cx="416.7" cy="188.5" r="2.2"/><circle cx="418.4" cy="188.8" r="2.2"/><circle cx="419.5" cy="188.4" r="2.2"/><circle cx="421.3" cy="188.7" r="2.2"/><circle cx="422.7" cy="188.9" r="2.2"/><circle cx="423.9" cy="188.7" r="2.2"/><circle cx="425.5" cy="189.0" r="2.2"/><circle cx="427.5" cy="189.0" r="2.2"/><circle cx="428.8" cy="188.4" r="2.2"/><circle cx="430.8" cy="188.7" r="2.2"/><circle cx="431.6" cy="188.4" r="2.2"/><circle cx="433.1" cy="189.0" r="2.2"/><circle cx="435.9" cy="188.6" r="2.2"/><circle cx="413.8" cy="190.4" r="2.2"/><circle cx="415.2" cy="190.4" r="2.2"/><circle cx="416.3" cy="189.7" r="2.2"/><circle cx="417.8" cy="189.6" r="2.2"/><circle cx="420.0" cy="190.2" r="2.2"/><circle cx="421.1" cy="190.8" r="2.2"/><circle cx="422.7" cy="189.9" r="2.2"/><circle cx="423.6" cy="189.7" r="2.2"/><circle cx="425.6" cy="190.5" r="2.2"/><circle cx="426.7" cy="190.0" r="2.2"/><circle cx="427.9" cy="190.2" r="2.2"/><circle cx="429.9" cy="190.7" r="2.2"/><circle cx="431.5" cy="190.6" r="2.2"/><circle cx="432.5" cy="190.1" r="2.2"/><circle cx="433.5" cy="190.8" r="2.2"/><circle cx="412.2" cy="191.2" r="2.2"/><circle cx="414.3" cy="191.6" r="2.2"/><circle cx="415.1" cy="191.8" r="2.2"/><circle cx="416.4" cy="191.1" r="2.2"/><circle cx="418.1" cy="191.6" r="2.2"/><circle cx="419.1" cy="191.5" r="2.2"/><circle cx="421.5" cy="191.5" r="2.2"/><circle cx="422.8" cy="191.8" r="2.2"/><circle cx="423.7" cy="191.1" r="2.2"/><circle cx="425.8" cy="191.8" r="2.2"/><circle cx="426.8" cy="191.3" r="2.2"/><circle cx="428.9" cy="192.2" r="2.2"/><circle cx="429.7" cy="191.8" r="2.2"/><circle cx="431.6" cy="191.5" r="2.2"/><circle cx="434.0" cy="191.7" r="2.2"/><circle cx="408.7" cy="193.1" r="2.2"/><circle cx="410.1" cy="193.8" r="2.2"/><circle cx="410.7" cy="193.3" r="2.2"/><circle cx="412.3" cy="192.6" r="2.2"/><circle cx="414.3" cy="193.6" r="2.2"/><circle cx="415.2" cy="193.5" r="2.2"/><circle cx="416.9" cy="193.8" r="2.2"/><circle cx="417.9" cy="193.1" r="2.2"/><circle cx="419.6" cy="193.3" r="2.2"/><circle cx="421.8" cy="193.6" r="2.2"/><circle cx="423.0" cy="193.1" r="2.2"/><circle cx="424.8" cy="192.7" r="2.2"/><circle cx="425.6" cy="193.5" r="2.2"/><circle cx="427.3" cy="193.8" r="2.2"/><circle cx="428.4" cy="193.2" r="2.2"/><circle cx="430.0" cy="192.6" r="2.2"/><circle cx="431.8" cy="192.7" r="2.2"/><circle cx="406.7" cy="195.3" r="2.2"/><circle cx="409.2" cy="195.2" r="2.2"/><circle cx="410.8" cy="194.5" r="2.2"/><circle cx="412.5" cy="194.8" r="2.2"/><circle cx="413.5" cy="194.2" r="2.2"/><circle cx="415.8" cy="194.5" r="2.2"/><circle cx="416.2" cy="194.9" r="2.2"/><circle cx="418.1" cy="194.5" r="2.2"/><circle cx="419.3" cy="195.1" r="2.2"/><circle cx="420.7" cy="194.6" r="2.2"/><circle cx="422.9" cy="194.5" r="2.2"/><circle cx="423.6" cy="194.3" r="2.2"/><circle cx="425.4" cy="194.9" r="2.2"/><circle cx="426.5" cy="194.6" r="2.2"/><circle cx="427.7" cy="195.0" r="2.2"/><circle cx="429.4" cy="195.1" r="2.2"/><circle cx="430.4" cy="195.0" r="2.2"/><circle cx="405.7" cy="196.2" r="2.2"/><circle cx="407.9" cy="196.4" r="2.2"/><circle cx="408.7" cy="196.3" r="2.2"/><circle cx="410.2" cy="196.2" r="2.2"/><circle cx="411.8" cy="196.3" r="2.2"/><circle cx="413.0" cy="196.2" r="2.2"/><circle cx="415.0" cy="195.8" r="2.2"/><circle cx="416.1" cy="196.4" r="2.2"/><circle cx="417.8" cy="196.3" r="2.2"/><circle cx="419.6" cy="196.3" r="2.2"/><circle cx="420.4" cy="196.1" r="2.2"/><circle cx="422.5" cy="196.3" r="2.2"/><circle cx="423.9" cy="196.0" r="2.2"/><circle cx="425.0" cy="196.8" r="2.2"/><circle cx="426.9" cy="196.4" r="2.2"/><circle cx="427.5" cy="196.3" r="2.2"/><circle cx="405.2" cy="198.1" r="2.2"/><circle cx="409.1" cy="197.7" r="2.2"/><circle cx="410.8" cy="197.3" r="2.2"/><circle cx="412.3" cy="197.5" r="2.2"/><circle cx="412.7" cy="197.5" r="2.2"/><circle cx="414.2" cy="197.2" r="2.2"/><circle cx="416.3" cy="197.2" r="2.2"/><circle cx="417.2" cy="197.5" r="2.2"/><circle cx="418.8" cy="198.2" r="2.2"/><circle cx="421.0" cy="198.1" r="2.2"/><circle cx="422.6" cy="197.6" r="2.2"/><circle cx="423.8" cy="197.4" r="2.2"/><circle cx="425.4" cy="198.1" r="2.2"/><circle cx="426.6" cy="197.4" r="2.2"/><circle cx="428.0" cy="198.2" r="2.2"/><circle cx="405.2" cy="199.5" r="2.2"/><circle cx="409.0" cy="198.9" r="2.2"/><circle cx="410.3" cy="199.1" r="2.2"/><circle cx="411.2" cy="198.9" r="2.2"/><circle cx="413.6" cy="199.0" r="2.2"/><circle cx="414.5" cy="199.2" r="2.2"/><circle cx="415.4" cy="199.5" r="2.2"/><circle cx="417.7" cy="199.7" r="2.2"/><circle cx="418.7" cy="198.9" r="2.2"/><circle cx="420.2" cy="199.5" r="2.2"/><circle cx="422.0" cy="199.1" r="2.2"/><circle cx="423.3" cy="198.8" r="2.2"/><circle cx="425.2" cy="199.2" r="2.2"/><circle cx="426.5" cy="199.5" r="2.2"/><circle cx="427.3" cy="199.6" r="2.2"/><circle cx="405.2" cy="200.7" r="2.2"/><circle cx="407.1" cy="200.6" r="2.2"/><circle cx="407.8" cy="201.1" r="2.2"/><circle cx="409.6" cy="200.8" r="2.2"/><circle cx="411.2" cy="200.3" r="2.2"/><circle cx="412.9" cy="200.5" r="2.2"/><circle cx="414.5" cy="201.0" r="2.2"/><circle cx="415.8" cy="201.1" r="2.2"/><circle cx="417.0" cy="200.9" r="2.2"/><circle cx="419.1" cy="200.3" r="2.2"/><circle cx="419.6" cy="200.6" r="2.2"/><circle cx="421.6" cy="200.3" r="2.2"/><circle cx="422.7" cy="201.1" r="2.2"/><circle cx="424.7" cy="200.3" r="2.2"/><circle cx="426.0" cy="200.7" r="2.2"/><circle cx="404.7" cy="202.6" r="2.2"/><circle cx="407.0" cy="202.2" r="2.2"/><circle cx="408.0" cy="202.5" r="2.2"/><circle cx="409.6" cy="202.5" r="2.2"/><circle cx="411.0" cy="202.3" r="2.2"/><circle cx="413.0" cy="202.0" r="2.2"/><circle cx="414.2" cy="201.7" r="2.2"/><circle cx="415.9" cy="202.4" r="2.2"/><circle cx="416.8" cy="202.3" r="2.2"/><circle cx="418.9" cy="201.7" r="2.2"/><circle cx="420.5" cy="202.6" r="2.2"/><circle cx="421.0" cy="201.9" r="2.2"/><circle cx="423.0" cy="201.9" r="2.2"/><circle cx="424.3" cy="202.0" r="2.2"/><circle cx="402.4" cy="204.0" r="2.2"/><circle cx="404.6" cy="203.5" r="2.2"/><circle cx="406.1" cy="204.3" r="2.2"/><circle cx="406.8" cy="203.1" r="2.2"/><circle cx="408.9" cy="203.6" r="2.2"/><circle cx="410.6" cy="203.6" r="2.2"/><circle cx="411.2" cy="203.2" r="2.2"/><circle cx="413.4" cy="203.7" r="2.2"/><circle cx="414.3" cy="203.6" r="2.2"/><circle cx="416.1" cy="204.1" r="2.2"/><circle cx="417.2" cy="203.3" r="2.2"/><circle cx="418.5" cy="204.2" r="2.2"/><circle cx="420.0" cy="203.9" r="2.2"/><circle cx="421.1" cy="203.7" r="2.2"/><circle cx="422.7" cy="204.1" r="2.2"/><circle cx="402.0" cy="205.8" r="2.2"/><circle cx="402.6" cy="205.6" r="2.2"/><circle cx="404.4" cy="205.5" r="2.2"/><circle cx="406.3" cy="204.8" r="2.2"/><circle cx="407.6" cy="205.4" r="2.2"/><circle cx="409.0" cy="204.6" r="2.2"/><circle cx="410.1" cy="205.0" r="2.2"/><circle cx="411.7" cy="205.0" r="2.2"/><circle cx="412.6" cy="205.4" r="2.2"/><circle cx="414.2" cy="205.5" r="2.2"/><circle cx="415.6" cy="205.3" r="2.2"/><circle cx="417.6" cy="204.7" r="2.2"/><circle cx="418.9" cy="204.7" r="2.2"/><circle cx="421.4" cy="204.8" r="2.2"/><circle cx="400.8" cy="206.2" r="2.2"/><circle cx="402.1" cy="206.6" r="2.2"/><circle cx="404.6" cy="206.5" r="2.2"/><circle cx="405.7" cy="207.1" r="2.2"/><circle cx="406.8" cy="207.0" r="2.2"/><circle cx="408.1" cy="206.2" r="2.2"/><circle cx="409.3" cy="206.6" r="2.2"/><circle cx="411.8" cy="206.3" r="2.2"/><circle cx="412.7" cy="207.0" r="2.2"/><circle cx="414.0" cy="206.3" r="2.2"/><circle cx="415.7" cy="206.6" r="2.2"/><circle cx="417.7" cy="207.2" r="2.2"/><circle cx="417.9" cy="206.8" r="2.2"/><circle cx="420.2" cy="207.2" r="2.2"/><circle cx="402.7" cy="208.1" r="2.2"/><circle cx="404.2" cy="208.2" r="2.2"/><circle cx="405.5" cy="207.8" r="2.2"/><circle cx="407.1" cy="207.7" r="2.2"/><circle cx="408.4" cy="207.8" r="2.2"/><circle cx="410.3" cy="207.8" r="2.2"/><circle cx="412.1" cy="208.1" r="2.2"/><circle cx="412.8" cy="207.9" r="2.2"/><circle cx="414.9" cy="207.7" r="2.2"/><circle cx="416.2" cy="207.7" r="2.2"/><circle cx="417.9" cy="208.1" r="2.2"/><circle cx="399.7" cy="210.0" r="2.2"/><circle cx="401.3" cy="209.6" r="2.2"/><circle cx="402.4" cy="209.4" r="2.2"/><circle cx="404.3" cy="209.2" r="2.2"/><circle cx="406.0" cy="209.7" r="2.2"/><circle cx="406.8" cy="209.2" r="2.2"/><circle cx="408.6" cy="209.7" r="2.2"/><circle cx="410.3" cy="209.5" r="2.2"/><circle cx="411.4" cy="210.2" r="2.2"/><circle cx="412.7" cy="210.3" r="2.2"/><circle cx="414.9" cy="210.3" r="2.2"/><circle cx="398.2" cy="211.6" r="2.2"/><circle cx="400.5" cy="210.8" r="2.2"/><circle cx="401.4" cy="211.2" r="2.2"/><circle cx="403.5" cy="210.7" r="2.2"/><circle cx="404.8" cy="210.7" r="2.2"/><circle cx="406.1" cy="211.4" r="2.2"/><circle cx="407.8" cy="210.7" r="2.2"/><circle cx="408.6" cy="211.8" r="2.2"/><circle cx="410.3" cy="211.1" r="2.2"/><circle cx="411.7" cy="211.4" r="2.2"/><circle cx="413.6" cy="211.4" r="2.2"/><circle cx="414.2" cy="211.3" r="2.2"/><circle cx="401.4" cy="213.1" r="2.2"/><circle cx="402.7" cy="212.4" r="2.2"/><circle cx="404.0" cy="212.7" r="2.2"/><circle cx="404.9" cy="212.5" r="2.2"/><circle cx="406.9" cy="213.1" r="2.2"/><circle cx="408.3" cy="212.9" r="2.2"/><circle cx="409.0" cy="212.3" r="2.2"/><circle cx="410.9" cy="212.4" r="2.2"/><circle cx="412.0" cy="212.2" r="2.2"/><circle cx="414.2" cy="213.0" r="2.2"/><circle cx="414.7" cy="213.1" r="2.2"/><circle cx="396.9" cy="213.6" r="2.2"/><circle cx="397.7" cy="214.6" r="2.2"/><circle cx="400.4" cy="213.9" r="2.2"/><circle cx="401.0" cy="213.6" r="2.2"/><circle cx="402.2" cy="214.5" r="2.2"/><circle cx="404.2" cy="214.2" r="2.2"/><circle cx="405.2" cy="213.9" r="2.2"/><circle cx="407.5" cy="214.0" r="2.2"/><circle cx="408.9" cy="214.7" r="2.2"/><circle cx="409.3" cy="214.6" r="2.2"/><circle cx="410.5" cy="214.5" r="2.2"/><circle cx="413.0" cy="214.4" r="2.2"/><circle cx="413.7" cy="214.2" r="2.2"/><circle cx="396.5" cy="215.9" r="2.2"/><circle cx="399.3" cy="215.8" r="2.2"/><circle cx="400.1" cy="216.2" r="2.2"/><circle cx="401.5" cy="215.2" r="2.2"/><circle cx="402.9" cy="215.9" r="2.2"/><circle cx="405.0" cy="215.9" r="2.2"/><circle cx="406.1" cy="216.2" r="2.2"/><circle cx="407.6" cy="215.6" r="2.2"/><circle cx="408.6" cy="216.0" r="2.2"/><circle cx="409.9" cy="215.2" r="2.2"/><circle cx="411.8" cy="216.1" r="2.2"/><circle cx="412.9" cy="215.3" r="2.2"/><circle cx="397.4" cy="217.8" r="2.2"/><circle cx="398.8" cy="216.7" r="2.2"/><circle cx="400.6" cy="216.6" r="2.2"/><circle cx="402.0" cy="217.1" r="2.2"/><circle cx="404.0" cy="217.1" r="2.2"/><circle cx="405.3" cy="217.5" r="2.2"/><circle cx="406.4" cy="216.9" r="2.2"/><circle cx="407.5" cy="217.2" r="2.2"/><circle cx="409.0" cy="217.4" r="2.2"/><circle cx="411.2" cy="216.8" r="2.2"/><circle cx="394.4" cy="218.2" r="2.2"/><circle cx="396.8" cy="218.8" r="2.2"/><circle cx="397.6" cy="218.6" r="2.2"/><circle cx="399.3" cy="218.8" r="2.2"/><circle cx="400.5" cy="218.8" r="2.2"/><circle cx="402.3" cy="218.7" r="2.2"/><circle cx="403.8" cy="218.2" r="2.2"/><circle cx="405.6" cy="219.1" r="2.2"/><circle cx="406.9" cy="218.2" r="2.2"/><circle cx="408.3" cy="219.1" r="2.2"/><circle cx="410.3" cy="219.0" r="2.2"/><circle cx="392.9" cy="220.7" r="2.2"/><circle cx="395.8" cy="220.0" r="2.2"/><circle cx="397.2" cy="220.7" r="2.2"/><circle cx="398.6" cy="220.7" r="2.2"/><circle cx="400.1" cy="220.8" r="2.2"/><circle cx="400.9" cy="220.2" r="2.2"/><circle cx="402.9" cy="220.5" r="2.2"/><circle cx="404.9" cy="220.3" r="2.2"/><circle cx="405.7" cy="220.4" r="2.2"/><circle cx="407.2" cy="220.4" r="2.2"/><circle cx="409.2" cy="219.6" r="2.2"/><circle cx="410.3" cy="220.5" r="2.2"/><circle cx="391.7" cy="221.4" r="2.2"/><circle cx="394.8" cy="221.8" r="2.2"/><circle cx="397.1" cy="222.0" r="2.2"/><circle cx="398.5" cy="221.4" r="2.2"/><circle cx="399.5" cy="221.6" r="2.2"/><circle cx="400.7" cy="222.1" r="2.2"/><circle cx="402.0" cy="221.8" r="2.2"/><circle cx="404.2" cy="222.2" r="2.2"/><circle cx="404.7" cy="221.4" r="2.2"/><circle cx="407.3" cy="222.2" r="2.2"/><circle cx="390.8" cy="223.0" r="2.2"/><circle cx="392.2" cy="223.4" r="2.2"/><circle cx="394.5" cy="223.2" r="2.2"/><circle cx="395.1" cy="223.6" r="2.2"/><circle cx="397.3" cy="222.9" r="2.2"/><circle cx="398.8" cy="223.6" r="2.2"/><circle cx="399.3" cy="222.6" r="2.2"/><circle cx="401.4" cy="223.6" r="2.2"/><circle cx="401.9" cy="223.5" r="2.2"/><circle cx="404.1" cy="223.4" r="2.2"/><circle cx="405.6" cy="223.8" r="2.2"/><circle cx="390.4" cy="225.1" r="2.2"/><circle cx="392.7" cy="224.8" r="2.2"/><circle cx="394.0" cy="224.4" r="2.2"/><circle cx="395.2" cy="224.9" r="2.2"/><circle cx="395.9" cy="225.0" r="2.2"/><circle cx="398.0" cy="224.5" r="2.2"/><circle cx="398.6" cy="224.4" r="2.2"/><circle cx="400.8" cy="224.7" r="2.2"/><circle cx="402.3" cy="224.3" r="2.2"/><circle cx="389.7" cy="226.4" r="2.2"/><circle cx="391.4" cy="226.6" r="2.2"/><circle cx="392.2" cy="226.0" r="2.2"/><circle cx="393.8" cy="226.5" r="2.2"/><circle cx="395.8" cy="226.5" r="2.2"/><circle cx="396.9" cy="226.4" r="2.2"/><circle cx="397.8" cy="226.1" r="2.2"/><circle cx="399.4" cy="225.9" r="2.2"/><circle cx="400.6" cy="225.9" r="2.2"/><circle cx="402.1" cy="226.4" r="2.2"/><circle cx="389.5" cy="228.2" r="2.2"/><circle cx="390.3" cy="227.4" r="2.2"/><circle cx="392.4" cy="228.0" r="2.2"/><circle cx="393.5" cy="227.6" r="2.2"/><circle cx="396.0" cy="227.7" r="2.2"/><circle cx="396.7" cy="228.1" r="2.2"/><circle cx="398.6" cy="227.6" r="2.2"/><circle cx="388.7" cy="229.2" r="2.2"/><circle cx="392.2" cy="229.2" r="2.2"/><circle cx="393.6" cy="228.8" r="2.2"/><circle cx="395.0" cy="229.4" r="2.2"/><circle cx="388.5" cy="231.1" r="2.2"/><circle cx="389.9" cy="230.6" r="2.2"/><circle cx="391.0" cy="230.2" r="2.2"/><circle cx="392.6" cy="230.4" r="2.2"/><circle cx="393.1" cy="230.6" r="2.2"/><circle cx="395.1" cy="230.5" r="2.2"/><circle cx="388.3" cy="232.3" r="2.2"/><circle cx="388.3" cy="232.0" r="2.2"/><circle cx="390.7" cy="232.3" r="2.2"/><circle cx="391.5" cy="232.1" r="2.2"/><circle cx="392.4" cy="232.0" r="2.2"/><circle cx="394.7" cy="231.8" r="2.2"/><circle cx="388.4" cy="234.0" r="2.2"/><circle cx="389.6" cy="233.2" r="2.2"/><circle cx="390.3" cy="233.9" r="2.2"/><circle cx="392.4" cy="233.6" r="2.2"/><circle cx="392.7" cy="234.1" r="2.2"/><circle cx="394.0" cy="233.9" r="2.2"/><circle cx="388.7" cy="234.6" r="2.2"/><circle cx="390.4" cy="235.4" r="2.2"/><circle cx="391.4" cy="235.1" r="2.2"/><circle cx="392.8" cy="234.8" r="2.2"/><circle cx="496.9" cy="103.5" r="2.2"/><circle cx="502.2" cy="103.8" r="2.2"/><circle cx="501.0" cy="105.5" r="2.2"/><circle cx="492.9" cy="109.2" r="2.2"/><circle cx="497.1" cy="112.7" r="2.2"/><circle cx="495.2" cy="114.6" r="2.2"/><circle cx="493.0" cy="116.6" r="2.2"/><circle cx="476.1" cy="120.8" r="2.2"/><circle cx="490.9" cy="120.4" r="2.2"/><circle cx="486.1" cy="125.2" r="2.2"/><circle cx="468.2" cy="128.2" r="2.2"/><circle cx="481.8" cy="131.5" r="2.2"/><circle cx="455.7" cy="136.1" r="2.2"/><circle cx="478.6" cy="135.8" r="2.2"/><circle cx="475.5" cy="138.3" r="2.2"/><circle cx="447.4" cy="142.0" r="2.2"/><circle cx="473.4" cy="141.6" r="2.2"/><circle cx="470.5" cy="145.7" r="2.2"/><circle cx="447.7" cy="147.9" r="2.2"/><circle cx="446.9" cy="149.4" r="2.2"/><circle cx="467.5" cy="150.2" r="2.2"/><circle cx="466.7" cy="151.8" r="2.2"/><circle cx="443.6" cy="153.0" r="2.2"/><circle cx="465.0" cy="152.4" r="2.2"/><circle cx="463.2" cy="155.1" r="2.2"/><circle cx="460.1" cy="158.7" r="2.2"/><circle cx="458.9" cy="161.5" r="2.2"/><circle cx="436.9" cy="163.4" r="2.2"/><circle cx="455.5" cy="165.7" r="2.2"/><circle cx="450.9" cy="168.5" r="2.2"/><circle cx="426.8" cy="172.0" r="2.2"/><circle cx="449.9" cy="172.1" r="2.2"/><circle cx="448.5" cy="174.6" r="2.2"/><circle cx="422.1" cy="175.6" r="2.2"/><circle cx="418.0" cy="179.0" r="2.2"/><circle cx="437.1" cy="187.0" r="2.2"/><circle cx="435.7" cy="190.7" r="2.2"/><circle cx="407.0" cy="193.9" r="2.2"/><circle cx="433.5" cy="193.8" r="2.2"/><circle cx="405.2" cy="197.0" r="2.2"/><circle cx="430.9" cy="196.1" r="2.2"/><circle cx="427.0" cy="201.1" r="2.2"/><circle cx="402.2" cy="203.6" r="2.2"/><circle cx="400.8" cy="206.3" r="2.2"/><circle cx="421.2" cy="207.0" r="2.2"/><circle cx="399.9" cy="208.4" r="2.2"/><circle cx="419.9" cy="207.6" r="2.2"/><circle cx="416.9" cy="212.7" r="2.2"/><circle cx="414.5" cy="215.6" r="2.2"/><circle cx="394.4" cy="216.2" r="2.2"/><circle cx="391.8" cy="220.9" r="2.2"/><circle cx="390.5" cy="223.4" r="2.2"/><circle cx="405.2" cy="224.6" r="2.2"/><circle cx="386.0" cy="234.3" r="2.2"/><circle cx="395.3" cy="233.5" r="2.2"/><circle cx="486.5" cy="110.0" r="2.2"/><circle cx="458.0" cy="134.5" r="2.2"/><circle cx="449.5" cy="137.0" r="2.2"/><circle cx="447.0" cy="139.5" r="2.2"/><circle cx="479.0" cy="140.0" r="2.2"/><circle cx="447.5" cy="146.5" r="2.2"/><circle cx="438.3" cy="151.6" r="2.2"/><circle cx="440.9" cy="152.4" r="2.2"/><circle cx="431.9" cy="157.6" r="2.2"/><circle cx="433.8" cy="156.9" r="2.2"/><circle cx="436.8" cy="155.0" r="2.2"/><circle cx="428.1" cy="161.0" r="2.2"/><circle cx="431.0" cy="160.3" r="2.2"/><circle cx="433.6" cy="159.3" r="2.2"/><circle cx="424.0" cy="164.4" r="2.2"/><circle cx="424.0" cy="165.9" r="2.2"/><circle cx="427.5" cy="166.6" r="2.2"/><circle cx="430.4" cy="163.8" r="2.2"/><circle cx="430.8" cy="167.6" r="2.2"/><circle cx="426.0" cy="169.0" r="2.2"/><circle cx="428.3" cy="170.6" r="2.2"/><circle cx="424.4" cy="171.9" r="2.2"/><circle cx="421.5" cy="174.0" r="2.2"/><circle cx="408.5" cy="176.9" r="2.2"/><circle cx="448.7" cy="181.2" r="2.2"/><circle cx="414.4" cy="181.9" r="2.2"/><circle cx="409.4" cy="188.7" r="2.2"/><circle cx="401.7" cy="196.0" r="2.2"/><circle cx="411.7" cy="221.4" r="2.2"/><circle cx="384.3" cy="233.0" r="2.2"/><circle cx="391.5" cy="236.7" r="2.2"/></g>
<rect x="328.65" y="30.4" width="235.35" height="271.85" fill="none" stroke="#000" stroke-opacity="0.75" stroke-width="1"/>
<path d="M337.65 302.25H555.25M337.85 302.25V305.25M392.25 302.25V305.25M446.65 302.25V305.25M501.05 302.25V305.25M555.45 302.25V305.25M328.65 40.5V292.1" fill="none" stroke="#000" stroke-opacity="0.8" stroke-width="0.9"/>
<path d="M328.25 292.5H325.05M328.25 229.5H325.05M328.25 166.5H325.05M328.25 103.5H325.05M328.25 40.5H325.05" fill="none" stroke="#000" stroke-opacity="0.5" stroke-width="1"/>
<text x="337.2" y="319.2" text-anchor="middle" font-size="11.5px">-2</text>
<text transform="translate(320.0 292.4) rotate(-90)" text-anchor="middle" font-size="11.5px">-2</text>
<text x="391.7" y="319.2" text-anchor="middle" font-size="11.5px">-1</text>
<text transform="translate(320.0 229.5) rotate(-90)" text-anchor="middle" font-size="11.5px">-1</text>
<text x="446.8" y="319.2" text-anchor="middle" font-size="11.5px">0</text>
<text transform="translate(320.0 166.6) rotate(-90)" text-anchor="middle" font-size="11.5px">0</text>
<text x="501.1" y="319.2" text-anchor="middle" font-size="11.5px">1</text>
<text transform="translate(320.0 103.7) rotate(-90)" text-anchor="middle" font-size="11.5px">1</text>
<text x="555.5" y="319.2" text-anchor="middle" font-size="11.5px">2</text>
<text transform="translate(320.0 40.8) rotate(-90)" text-anchor="middle" font-size="11.5px">2</text>
<text x="446.3" y="331" text-anchor="middle" textLength="90.6" font-size="11.6px" clip-path="url(#cl)">gene expression</text>
<text transform="translate(309.2 166.3) rotate(-90)" text-anchor="middle" textLength="91" font-size="11.6px">gene expression</text>
<text x="392.8" y="108" font-weight="bold" font-style="italic" fill="#666" textLength="41">Control</text>
<text x="392.8" y="170.3" font-weight="bold" font-style="italic">n=2</text>
<text y="354.2" font-size="12.2px"><tspan x="158.50" textLength="44.50">Average</tspan> <tspan x="208.50" textLength="58.50">R-squared:</tspan> <tspan x="271.50" textLength="54.00">Treatment</tspan> <tspan x="330.00" textLength="33.20">(0.99),</tspan> <tspan x="368.00" textLength="38.00">Control</tspan> <tspan x="411.00" textLength="30.20">(0.99)</tspan></text>
<text y="382.6" font-size="9.5px"><tspan x="149.00" textLength="26.00">Genes</tspan> <tspan x="179.00" textLength="36.00">detected</tspan> <tspan x="218.00" textLength="6.50">at</tspan> <tspan x="230.00" textLength="18.00">least</tspan> <tspan x="251.80" textLength="14.20">one</tspan> <tspan x="270.00" textLength="16.50">chip</tspan> <tspan x="290.00" textLength="18.50">were</tspan> <tspan x="313.00" textLength="27.50">plotted</tspan> <tspan x="345.00" textLength="39.50">(detection</tspan> <tspan x="388.00" textLength="28.80">p-value</tspan> <tspan x="421.00" textLength="5.20">&lt;</tspan> <tspan x="430.00" textLength="21.20">0.01)</tspan></text>
</svg>
</body></html>
